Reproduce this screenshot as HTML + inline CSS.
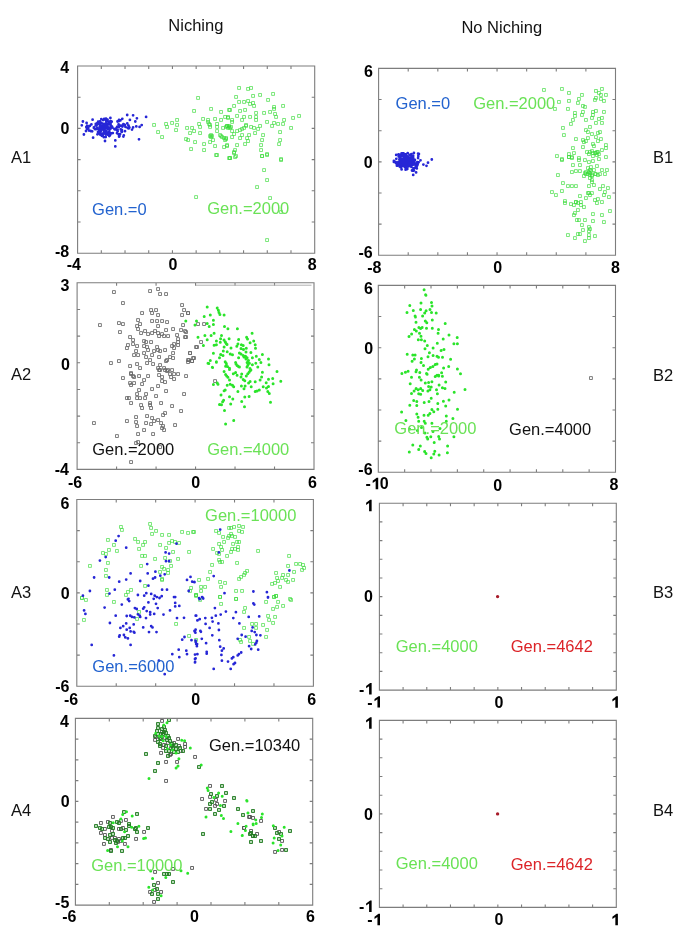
<!DOCTYPE html><html><head><meta charset="utf-8"><style>html,body{margin:0;padding:0;background:#fff;}svg{display:block;filter:blur(0.3px);}text{font-family:"Liberation Sans",sans-serif;}</style></head><body>
<svg width="685" height="940" viewBox="0 0 685 940">
<rect width="685" height="940" fill="#fff"/>
<path d="M196.6 96.5h2.9v2.9h-2.9zM192.6 109.5h2.9v2.9h-2.9zM209.6 107.5h2.9v2.9h-2.9zM219.6 110.5h2.9v2.9h-2.9zM152.6 123.5h2.9v2.9h-2.9zM156.6 130.6h2.9v2.9h-2.9zM160.6 135.6h2.9v2.9h-2.9zM164.6 122.5h2.9v2.9h-2.9zM165.6 125.5h2.9v2.9h-2.9zM170.6 121.5h2.9v2.9h-2.9zM175.6 118.5h2.9v2.9h-2.9zM175.6 123.5h2.9v2.9h-2.9zM174.6 128.6h2.9v2.9h-2.9zM185.6 126.5h2.9v2.9h-2.9zM188.6 131.6h2.9v2.9h-2.9zM190.6 126.5h2.9v2.9h-2.9zM192.6 129.6h2.9v2.9h-2.9zM184.6 137.6h2.9v2.9h-2.9zM186.6 138.6h2.9v2.9h-2.9zM193.6 140.6h2.9v2.9h-2.9zM189.6 147.6h2.9v2.9h-2.9zM197.6 122.5h2.9v2.9h-2.9zM198.6 125.5h2.9v2.9h-2.9zM198.6 131.6h2.9v2.9h-2.9zM201.6 117.5h2.9v2.9h-2.9zM202.6 142.6h2.9v2.9h-2.9zM202.6 148.6h2.9v2.9h-2.9zM206.6 118.5h2.9v2.9h-2.9zM207.6 122.5h2.9v2.9h-2.9zM208.6 125.5h2.9v2.9h-2.9zM213.6 117.5h2.9v2.9h-2.9zM215.6 122.5h2.9v2.9h-2.9zM215.6 125.5h2.9v2.9h-2.9zM215.6 129.6h2.9v2.9h-2.9zM209.6 133.6h2.9v2.9h-2.9zM209.6 135.6h2.9v2.9h-2.9zM208.6 140.6h2.9v2.9h-2.9zM211.6 138.6h2.9v2.9h-2.9zM213.6 144.6h2.9v2.9h-2.9zM215.6 153.6h2.9v2.9h-2.9zM219.6 118.5h2.9v2.9h-2.9zM223.6 115.5h2.9v2.9h-2.9zM226.6 116.5h2.9v2.9h-2.9zM218.6 133.6h2.9v2.9h-2.9zM220.6 135.6h2.9v2.9h-2.9zM223.6 138.6h2.9v2.9h-2.9zM224.6 137.6h2.9v2.9h-2.9zM222.6 145.6h2.9v2.9h-2.9zM225.6 144.6h2.9v2.9h-2.9zM224.6 125.5h2.9v2.9h-2.9zM226.6 126.5h2.9v2.9h-2.9zM227.6 124.5h2.9v2.9h-2.9zM227.6 156.6h2.9v2.9h-2.9zM227.6 108.5h2.9v2.9h-2.9zM237.6 86.5h2.9v2.9h-2.9zM246.6 87.5h2.9v2.9h-2.9zM249.6 86.5h2.9v2.9h-2.9zM234.6 95.5h2.9v2.9h-2.9zM251.6 94.5h2.9v2.9h-2.9zM258.6 93.5h2.9v2.9h-2.9zM271.6 92.5h2.9v2.9h-2.9zM266.6 98.5h2.9v2.9h-2.9zM237.6 100.5h2.9v2.9h-2.9zM242.6 100.5h2.9v2.9h-2.9zM246.6 99.5h2.9v2.9h-2.9zM251.6 101.5h2.9v2.9h-2.9zM252.6 104.5h2.9v2.9h-2.9zM248.6 102.5h2.9v2.9h-2.9zM232.6 104.5h2.9v2.9h-2.9zM281.6 104.5h2.9v2.9h-2.9zM228.6 108.5h2.9v2.9h-2.9zM238.6 109.5h2.9v2.9h-2.9zM243.6 108.5h2.9v2.9h-2.9zM254.6 111.5h2.9v2.9h-2.9zM262.6 111.5h2.9v2.9h-2.9zM268.6 110.5h2.9v2.9h-2.9zM272.6 107.5h2.9v2.9h-2.9zM272.6 105.5h2.9v2.9h-2.9zM273.6 112.5h2.9v2.9h-2.9zM274.6 115.5h2.9v2.9h-2.9zM282.6 118.5h2.9v2.9h-2.9zM291.6 116.5h2.9v2.9h-2.9zM297.6 114.5h2.9v2.9h-2.9zM235.6 114.5h2.9v2.9h-2.9zM242.6 115.5h2.9v2.9h-2.9zM248.6 115.5h2.9v2.9h-2.9zM254.6 115.5h2.9v2.9h-2.9zM254.6 118.5h2.9v2.9h-2.9zM240.6 118.5h2.9v2.9h-2.9zM230.6 118.5h2.9v2.9h-2.9zM226.6 115.5h2.9v2.9h-2.9zM265.6 120.5h2.9v2.9h-2.9zM272.6 121.5h2.9v2.9h-2.9zM276.6 122.5h2.9v2.9h-2.9zM281.6 122.5h2.9v2.9h-2.9zM270.6 124.5h2.9v2.9h-2.9zM258.6 124.5h2.9v2.9h-2.9zM256.6 127.5h2.9v2.9h-2.9zM252.6 126.5h2.9v2.9h-2.9zM249.6 125.5h2.9v2.9h-2.9zM244.6 124.5h2.9v2.9h-2.9zM240.6 127.5h2.9v2.9h-2.9zM225.6 124.5h2.9v2.9h-2.9zM228.6 126.5h2.9v2.9h-2.9zM289.6 126.5h2.9v2.9h-2.9zM278.6 130.6h2.9v2.9h-2.9zM253.6 131.6h2.9v2.9h-2.9zM235.6 129.6h2.9v2.9h-2.9zM230.6 129.6h2.9v2.9h-2.9zM240.6 133.6h2.9v2.9h-2.9zM247.6 133.6h2.9v2.9h-2.9zM261.6 133.6h2.9v2.9h-2.9zM278.6 138.6h2.9v2.9h-2.9zM277.6 142.6h2.9v2.9h-2.9zM260.6 138.6h2.9v2.9h-2.9zM246.6 139.6h2.9v2.9h-2.9zM245.6 136.6h2.9v2.9h-2.9zM243.6 142.6h2.9v2.9h-2.9zM238.6 136.6h2.9v2.9h-2.9zM230.6 135.6h2.9v2.9h-2.9zM224.6 136.6h2.9v2.9h-2.9zM225.6 143.6h2.9v2.9h-2.9zM235.6 143.6h2.9v2.9h-2.9zM259.6 143.6h2.9v2.9h-2.9zM259.6 148.6h2.9v2.9h-2.9zM233.6 148.6h2.9v2.9h-2.9zM232.6 151.6h2.9v2.9h-2.9zM234.6 154.6h2.9v2.9h-2.9zM228.6 156.6h2.9v2.9h-2.9zM260.6 154.6h2.9v2.9h-2.9zM265.6 153.6h2.9v2.9h-2.9zM279.6 157.6h2.9v2.9h-2.9zM214.6 153.6h2.9v2.9h-2.9zM228.6 156.6h2.9v2.9h-2.9zM233.6 155.6h2.9v2.9h-2.9zM232.6 150.6h2.9v2.9h-2.9zM260.6 154.6h2.9v2.9h-2.9zM265.6 152.6h2.9v2.9h-2.9zM279.6 158.6h2.9v2.9h-2.9zM262.6 168.6h2.9v2.9h-2.9zM265.6 178.6h2.9v2.9h-2.9zM255.6 185.6h2.9v2.9h-2.9zM194.6 195.6h2.9v2.9h-2.9zM268.6 196.6h2.9v2.9h-2.9zM279.6 210.6h2.9v2.9h-2.9zM265.6 238.6h2.9v2.9h-2.9zM208.6 134.6h2.9v2.9h-2.9zM210.6 134.6h2.9v2.9h-2.9zM219.6 134.6h2.9v2.9h-2.9zM222.6 136.6h2.9v2.9h-2.9zM206.6 120.5h2.9v2.9h-2.9zM208.6 123.5h2.9v2.9h-2.9zM225.6 124.5h2.9v2.9h-2.9zM227.6 125.5h2.9v2.9h-2.9zM242.6 126.5h2.9v2.9h-2.9zM244.6 123.5h2.9v2.9h-2.9zM230.6 120.5h2.9v2.9h-2.9zM232.6 132.6h2.9v2.9h-2.9zM238.6 128.6h2.9v2.9h-2.9zM229.6 125.5h2.9v2.9h-2.9zM221.6 126.5h2.9v2.9h-2.9zM542.5 88.5h2.9v2.9h-2.9zM560.5 87.5h2.9v2.9h-2.9zM567.5 91.5h2.9v2.9h-2.9zM557.5 100.5h2.9v2.9h-2.9zM567.5 99.5h2.9v2.9h-2.9zM553.5 107.5h2.9v2.9h-2.9zM566.5 107.5h2.9v2.9h-2.9zM580.5 93.5h2.9v2.9h-2.9zM577.5 97.5h2.9v2.9h-2.9zM576.5 101.5h2.9v2.9h-2.9zM581.5 104.5h2.9v2.9h-2.9zM583.5 105.5h2.9v2.9h-2.9zM594.5 89.5h2.9v2.9h-2.9zM597.5 91.5h2.9v2.9h-2.9zM600.5 87.5h2.9v2.9h-2.9zM599.5 93.5h2.9v2.9h-2.9zM604.5 93.5h2.9v2.9h-2.9zM594.5 96.5h2.9v2.9h-2.9zM593.5 98.5h2.9v2.9h-2.9zM599.5 97.5h2.9v2.9h-2.9zM602.5 99.5h2.9v2.9h-2.9zM573.5 111.5h2.9v2.9h-2.9zM573.5 114.5h2.9v2.9h-2.9zM581.5 110.5h2.9v2.9h-2.9zM580.5 113.5h2.9v2.9h-2.9zM591.5 110.5h2.9v2.9h-2.9zM594.5 109.5h2.9v2.9h-2.9zM602.5 110.5h2.9v2.9h-2.9zM591.5 113.5h2.9v2.9h-2.9zM590.5 116.5h2.9v2.9h-2.9zM597.5 117.5h2.9v2.9h-2.9zM600.5 116.5h2.9v2.9h-2.9zM571.5 118.5h2.9v2.9h-2.9zM569.5 122.5h2.9v2.9h-2.9zM584.5 118.5h2.9v2.9h-2.9zM594.5 121.5h2.9v2.9h-2.9zM600.5 121.5h2.9v2.9h-2.9zM561.5 126.5h2.9v2.9h-2.9zM588.5 125.5h2.9v2.9h-2.9zM584.5 128.6h2.9v2.9h-2.9zM586.5 130.6h2.9v2.9h-2.9zM562.5 133.6h2.9v2.9h-2.9zM590.5 132.6h2.9v2.9h-2.9zM596.5 131.6h2.9v2.9h-2.9zM598.5 130.6h2.9v2.9h-2.9zM594.5 135.6h2.9v2.9h-2.9zM574.5 137.6h2.9v2.9h-2.9zM581.5 138.6h2.9v2.9h-2.9zM582.5 140.6h2.9v2.9h-2.9zM584.5 139.6h2.9v2.9h-2.9zM586.5 136.6h2.9v2.9h-2.9zM596.5 139.6h2.9v2.9h-2.9zM599.5 137.6h2.9v2.9h-2.9zM591.5 142.6h2.9v2.9h-2.9zM592.5 144.6h2.9v2.9h-2.9zM604.5 143.6h2.9v2.9h-2.9zM604.5 146.6h2.9v2.9h-2.9zM581.5 145.6h2.9v2.9h-2.9zM571.5 146.6h2.9v2.9h-2.9zM600.5 148.6h2.9v2.9h-2.9zM567.5 152.6h2.9v2.9h-2.9zM572.5 151.6h2.9v2.9h-2.9zM555.5 154.6h2.9v2.9h-2.9zM585.5 150.6h2.9v2.9h-2.9zM587.5 152.6h2.9v2.9h-2.9zM590.5 149.6h2.9v2.9h-2.9zM593.5 151.6h2.9v2.9h-2.9zM595.5 150.6h2.9v2.9h-2.9zM597.5 152.6h2.9v2.9h-2.9zM591.5 154.6h2.9v2.9h-2.9zM595.5 153.6h2.9v2.9h-2.9zM604.5 155.6h2.9v2.9h-2.9zM567.5 155.6h2.9v2.9h-2.9zM570.5 155.6h2.9v2.9h-2.9zM560.5 157.6h2.9v2.9h-2.9zM577.5 156.6h2.9v2.9h-2.9zM560.5 158.6h2.9v2.9h-2.9zM567.5 155.6h2.9v2.9h-2.9zM570.5 156.6h2.9v2.9h-2.9zM577.5 158.6h2.9v2.9h-2.9zM583.5 158.6h2.9v2.9h-2.9zM587.5 160.6h2.9v2.9h-2.9zM591.5 159.6h2.9v2.9h-2.9zM597.5 157.6h2.9v2.9h-2.9zM571.5 163.6h2.9v2.9h-2.9zM578.5 163.6h2.9v2.9h-2.9zM589.5 165.6h2.9v2.9h-2.9zM595.5 164.6h2.9v2.9h-2.9zM600.5 168.6h2.9v2.9h-2.9zM605.5 168.6h2.9v2.9h-2.9zM570.5 170.6h2.9v2.9h-2.9zM574.5 169.6h2.9v2.9h-2.9zM578.5 169.6h2.9v2.9h-2.9zM583.5 171.6h2.9v2.9h-2.9zM587.5 170.6h2.9v2.9h-2.9zM589.5 169.6h2.9v2.9h-2.9zM588.5 173.6h2.9v2.9h-2.9zM593.5 172.6h2.9v2.9h-2.9zM596.5 173.6h2.9v2.9h-2.9zM582.5 174.6h2.9v2.9h-2.9zM603.5 172.6h2.9v2.9h-2.9zM556.5 173.6h2.9v2.9h-2.9zM590.5 180.6h2.9v2.9h-2.9zM592.5 183.6h2.9v2.9h-2.9zM587.5 184.6h2.9v2.9h-2.9zM561.5 181.6h2.9v2.9h-2.9zM566.5 184.6h2.9v2.9h-2.9zM570.5 184.6h2.9v2.9h-2.9zM574.5 184.6h2.9v2.9h-2.9zM601.5 184.6h2.9v2.9h-2.9zM606.5 186.6h2.9v2.9h-2.9zM598.5 187.6h2.9v2.9h-2.9zM560.5 189.6h2.9v2.9h-2.9zM550.5 190.6h2.9v2.9h-2.9zM554.5 193.6h2.9v2.9h-2.9zM587.5 191.6h2.9v2.9h-2.9zM603.5 190.6h2.9v2.9h-2.9zM602.5 193.6h2.9v2.9h-2.9zM578.5 194.6h2.9v2.9h-2.9zM584.5 196.6h2.9v2.9h-2.9zM607.5 195.6h2.9v2.9h-2.9zM596.5 197.6h2.9v2.9h-2.9zM593.5 198.6h2.9v2.9h-2.9zM600.5 200.6h2.9v2.9h-2.9zM595.5 201.6h2.9v2.9h-2.9zM563.5 199.6h2.9v2.9h-2.9zM563.5 201.6h2.9v2.9h-2.9zM569.5 202.6h2.9v2.9h-2.9zM574.5 200.6h2.9v2.9h-2.9zM572.5 203.6h2.9v2.9h-2.9zM579.5 200.6h2.9v2.9h-2.9zM579.5 203.6h2.9v2.9h-2.9zM582.5 205.6h2.9v2.9h-2.9zM576.5 208.6h2.9v2.9h-2.9zM573.5 211.6h2.9v2.9h-2.9zM572.5 213.6h2.9v2.9h-2.9zM608.5 209.6h2.9v2.9h-2.9zM591.5 212.6h2.9v2.9h-2.9zM600.5 213.6h2.9v2.9h-2.9zM575.5 218.6h2.9v2.9h-2.9zM577.5 218.6h2.9v2.9h-2.9zM583.5 218.6h2.9v2.9h-2.9zM591.5 219.6h2.9v2.9h-2.9zM602.5 220.6h2.9v2.9h-2.9zM580.5 223.6h2.9v2.9h-2.9zM581.5 228.6h2.9v2.9h-2.9zM587.5 225.6h2.9v2.9h-2.9zM588.5 227.6h2.9v2.9h-2.9zM587.5 229.6h2.9v2.9h-2.9zM576.5 232.6h2.9v2.9h-2.9zM578.5 232.6h2.9v2.9h-2.9zM566.5 233.6h2.9v2.9h-2.9zM573.5 236.6h2.9v2.9h-2.9zM587.5 233.6h2.9v2.9h-2.9zM587.5 236.6h2.9v2.9h-2.9zM593.5 234.6h2.9v2.9h-2.9zM583.5 239.6h2.9v2.9h-2.9zM588.5 168.6h2.9v2.9h-2.9zM588.5 171.6h2.9v2.9h-2.9zM588.5 150.6h2.9v2.9h-2.9zM591.5 151.6h2.9v2.9h-2.9zM594.5 151.6h2.9v2.9h-2.9zM596.5 150.6h2.9v2.9h-2.9zM590.5 173.6h2.9v2.9h-2.9zM594.5 172.6h2.9v2.9h-2.9zM586.5 191.6h2.9v2.9h-2.9zM588.5 193.6h2.9v2.9h-2.9zM584.5 172.6h2.9v2.9h-2.9zM598.5 172.6h2.9v2.9h-2.9zM590.5 191.6h2.9v2.9h-2.9zM574.5 200.6h2.9v2.9h-2.9zM576.5 201.6h2.9v2.9h-2.9zM586.5 172.6h2.9v2.9h-2.9zM590.5 174.6h2.9v2.9h-2.9zM586.5 166.6h2.9v2.9h-2.9zM584.5 170.6h2.9v2.9h-2.9zM592.5 168.6h2.9v2.9h-2.9zM588.5 176.6h2.9v2.9h-2.9zM590.5 178.6h2.9v2.9h-2.9zM119.5 525.5h2.9v2.9h-2.9zM120.5 528.5h2.9v2.9h-2.9zM148.6 522.5h2.9v2.9h-2.9zM149.6 526.5h2.9v2.9h-2.9zM154.6 529.5h2.9v2.9h-2.9zM150.6 532.5h2.9v2.9h-2.9zM160.6 533.5h2.9v2.9h-2.9zM167.6 533.5h2.9v2.9h-2.9zM180.6 530.5h2.9v2.9h-2.9zM186.6 531.5h2.9v2.9h-2.9zM191.6 530.5h2.9v2.9h-2.9zM106.5 538.5h2.9v2.9h-2.9zM133.6 537.5h2.9v2.9h-2.9zM136.6 540.5h2.9v2.9h-2.9zM143.6 540.5h2.9v2.9h-2.9zM141.6 543.5h2.9v2.9h-2.9zM112.5 543.5h2.9v2.9h-2.9zM137.6 547.5h2.9v2.9h-2.9zM158.6 543.5h2.9v2.9h-2.9zM164.6 546.5h2.9v2.9h-2.9zM167.6 541.5h2.9v2.9h-2.9zM170.6 539.5h2.9v2.9h-2.9zM173.6 540.5h2.9v2.9h-2.9zM177.6 541.5h2.9v2.9h-2.9zM107.5 548.5h2.9v2.9h-2.9zM115.5 549.5h2.9v2.9h-2.9zM101.5 551.5h2.9v2.9h-2.9zM104.5 552.5h2.9v2.9h-2.9zM171.6 550.5h2.9v2.9h-2.9zM187.6 550.5h2.9v2.9h-2.9zM140.6 554.5h2.9v2.9h-2.9zM143.6 554.5h2.9v2.9h-2.9zM153.6 557.5h2.9v2.9h-2.9zM163.6 556.5h2.9v2.9h-2.9zM176.6 557.5h2.9v2.9h-2.9zM106.5 561.5h2.9v2.9h-2.9zM168.6 559.5h2.9v2.9h-2.9zM88.5 564.5h2.9v2.9h-2.9zM139.6 564.5h2.9v2.9h-2.9zM160.6 565.5h2.9v2.9h-2.9zM169.6 564.5h2.9v2.9h-2.9zM104.5 568.5h2.9v2.9h-2.9zM162.6 567.5h2.9v2.9h-2.9zM166.6 568.5h2.9v2.9h-2.9zM158.6 570.5h2.9v2.9h-2.9zM166.6 571.5h2.9v2.9h-2.9zM104.5 574.5h2.9v2.9h-2.9zM160.6 577.5h2.9v2.9h-2.9zM160.6 578.5h2.9v2.9h-2.9zM143.6 584.5h2.9v2.9h-2.9zM129.6 588.5h2.9v2.9h-2.9zM105.5 588.5h2.9v2.9h-2.9zM126.5 590.5h2.9v2.9h-2.9zM124.5 593.5h2.9v2.9h-2.9zM105.5 593.5h2.9v2.9h-2.9zM189.6 586.5h2.9v2.9h-2.9zM188.6 589.5h2.9v2.9h-2.9zM194.6 593.5h2.9v2.9h-2.9zM80.5 596.5h2.9v2.9h-2.9zM192.6 530.5h2.9v2.9h-2.9zM214.6 529.5h2.9v2.9h-2.9zM217.6 531.5h2.9v2.9h-2.9zM227.6 526.5h2.9v2.9h-2.9zM229.6 526.5h2.9v2.9h-2.9zM232.6 525.5h2.9v2.9h-2.9zM237.6 524.5h2.9v2.9h-2.9zM241.6 525.5h2.9v2.9h-2.9zM237.6 529.5h2.9v2.9h-2.9zM240.6 530.5h2.9v2.9h-2.9zM229.6 532.5h2.9v2.9h-2.9zM227.6 534.5h2.9v2.9h-2.9zM226.6 536.5h2.9v2.9h-2.9zM230.6 534.5h2.9v2.9h-2.9zM233.6 535.5h2.9v2.9h-2.9zM221.6 535.5h2.9v2.9h-2.9zM222.6 540.5h2.9v2.9h-2.9zM217.6 542.5h2.9v2.9h-2.9zM219.6 545.5h2.9v2.9h-2.9zM231.6 542.5h2.9v2.9h-2.9zM235.6 540.5h2.9v2.9h-2.9zM237.6 540.5h2.9v2.9h-2.9zM236.6 545.5h2.9v2.9h-2.9zM211.6 547.5h2.9v2.9h-2.9zM220.6 548.5h2.9v2.9h-2.9zM230.6 547.5h2.9v2.9h-2.9zM233.6 547.5h2.9v2.9h-2.9zM236.6 548.5h2.9v2.9h-2.9zM229.6 550.5h2.9v2.9h-2.9zM215.6 551.5h2.9v2.9h-2.9zM217.6 552.5h2.9v2.9h-2.9zM225.6 554.5h2.9v2.9h-2.9zM256.6 549.5h2.9v2.9h-2.9zM217.6 558.5h2.9v2.9h-2.9zM218.6 560.5h2.9v2.9h-2.9zM220.6 560.5h2.9v2.9h-2.9zM235.6 561.5h2.9v2.9h-2.9zM210.6 563.5h2.9v2.9h-2.9zM287.6 554.5h2.9v2.9h-2.9zM286.6 564.5h2.9v2.9h-2.9zM294.6 562.5h2.9v2.9h-2.9zM298.6 562.5h2.9v2.9h-2.9zM301.6 563.5h2.9v2.9h-2.9zM302.6 566.5h2.9v2.9h-2.9zM300.6 568.5h2.9v2.9h-2.9zM292.6 570.5h2.9v2.9h-2.9zM208.6 570.5h2.9v2.9h-2.9zM245.6 569.5h2.9v2.9h-2.9zM243.6 571.5h2.9v2.9h-2.9zM242.6 573.5h2.9v2.9h-2.9zM239.6 575.5h2.9v2.9h-2.9zM237.6 577.5h2.9v2.9h-2.9zM206.6 577.5h2.9v2.9h-2.9zM197.6 578.5h2.9v2.9h-2.9zM274.6 571.5h2.9v2.9h-2.9zM281.6 573.5h2.9v2.9h-2.9zM286.6 573.5h2.9v2.9h-2.9zM275.6 576.5h2.9v2.9h-2.9zM280.6 576.5h2.9v2.9h-2.9zM284.6 578.5h2.9v2.9h-2.9zM291.6 578.5h2.9v2.9h-2.9zM276.6 579.5h2.9v2.9h-2.9zM286.6 580.5h2.9v2.9h-2.9zM273.6 581.5h2.9v2.9h-2.9zM270.6 582.5h2.9v2.9h-2.9zM278.6 585.5h2.9v2.9h-2.9zM218.6 580.5h2.9v2.9h-2.9zM223.6 581.5h2.9v2.9h-2.9zM219.6 585.5h2.9v2.9h-2.9zM199.6 585.5h2.9v2.9h-2.9zM203.6 585.5h2.9v2.9h-2.9zM199.6 589.5h2.9v2.9h-2.9zM234.6 589.5h2.9v2.9h-2.9zM240.6 589.5h2.9v2.9h-2.9zM194.6 593.5h2.9v2.9h-2.9zM218.6 595.5h2.9v2.9h-2.9zM272.6 595.5h2.9v2.9h-2.9zM274.6 594.5h2.9v2.9h-2.9zM288.6 597.5h2.9v2.9h-2.9zM234.6 597.5h2.9v2.9h-2.9zM80.5 596.5h2.9v2.9h-2.9zM84.5 598.5h2.9v2.9h-2.9zM112.5 600.5h2.9v2.9h-2.9zM137.6 610.5h2.9v2.9h-2.9zM135.6 617.5h2.9v2.9h-2.9zM82.5 618.5h2.9v2.9h-2.9zM174.6 622.5h2.9v2.9h-2.9zM187.6 634.5h2.9v2.9h-2.9zM194.6 638.5h2.9v2.9h-2.9zM194.6 594.5h2.9v2.9h-2.9zM198.6 598.5h2.9v2.9h-2.9zM218.6 595.5h2.9v2.9h-2.9zM234.6 597.5h2.9v2.9h-2.9zM219.6 602.5h2.9v2.9h-2.9zM243.6 606.5h2.9v2.9h-2.9zM242.6 610.5h2.9v2.9h-2.9zM264.6 600.5h2.9v2.9h-2.9zM272.6 595.5h2.9v2.9h-2.9zM274.6 594.5h2.9v2.9h-2.9zM276.6 600.5h2.9v2.9h-2.9zM275.6 605.5h2.9v2.9h-2.9zM271.6 607.5h2.9v2.9h-2.9zM281.6 604.5h2.9v2.9h-2.9zM289.6 598.5h2.9v2.9h-2.9zM266.6 614.5h2.9v2.9h-2.9zM273.6 615.5h2.9v2.9h-2.9zM267.6 618.5h2.9v2.9h-2.9zM271.6 621.5h2.9v2.9h-2.9zM250.6 622.5h2.9v2.9h-2.9zM254.6 622.5h2.9v2.9h-2.9zM261.6 623.5h2.9v2.9h-2.9zM242.6 626.5h2.9v2.9h-2.9zM254.6 626.5h2.9v2.9h-2.9zM265.6 628.5h2.9v2.9h-2.9zM264.6 635.5h2.9v2.9h-2.9zM247.6 635.5h2.9v2.9h-2.9zM238.6 638.5h2.9v2.9h-2.9zM239.6 640.5h2.9v2.9h-2.9zM248.6 639.5h2.9v2.9h-2.9zM251.6 642.5h2.9v2.9h-2.9z" fill="none" stroke="#38dc38" stroke-width="0.65"/>
<path d="M112.5 290.6h2.9v2.9h-2.9zM148.6 289.6h2.9v2.9h-2.9zM156.6 287.6h2.9v2.9h-2.9zM158.6 292.6h2.9v2.9h-2.9zM164.6 292.6h2.9v2.9h-2.9zM121.5 301.6h2.9v2.9h-2.9zM180.6 303.6h2.9v2.9h-2.9zM182.6 308.6h2.9v2.9h-2.9zM186.6 311.6h2.9v2.9h-2.9zM180.6 313.6h2.9v2.9h-2.9zM140.6 311.6h2.9v2.9h-2.9zM149.6 308.6h2.9v2.9h-2.9zM154.6 308.6h2.9v2.9h-2.9zM150.6 311.6h2.9v2.9h-2.9zM156.6 313.6h2.9v2.9h-2.9zM136.6 318.6h2.9v2.9h-2.9zM138.6 322.6h2.9v2.9h-2.9zM150.6 319.6h2.9v2.9h-2.9zM155.6 319.6h2.9v2.9h-2.9zM160.6 319.6h2.9v2.9h-2.9zM165.6 320.6h2.9v2.9h-2.9zM98.5 323.6h2.9v2.9h-2.9zM117.5 321.6h2.9v2.9h-2.9zM121.5 322.6h2.9v2.9h-2.9zM135.6 324.6h2.9v2.9h-2.9zM156.6 324.6h2.9v2.9h-2.9zM181.6 323.6h2.9v2.9h-2.9zM136.6 327.6h2.9v2.9h-2.9zM164.6 328.6h2.9v2.9h-2.9zM171.6 327.6h2.9v2.9h-2.9zM179.6 328.6h2.9v2.9h-2.9zM183.6 329.6h2.9v2.9h-2.9zM118.5 330.6h2.9v2.9h-2.9zM139.6 331.6h2.9v2.9h-2.9zM143.6 329.6h2.9v2.9h-2.9zM146.6 332.6h2.9v2.9h-2.9zM150.6 331.6h2.9v2.9h-2.9zM153.6 329.6h2.9v2.9h-2.9zM156.6 331.6h2.9v2.9h-2.9zM157.6 334.6h2.9v2.9h-2.9zM160.6 332.6h2.9v2.9h-2.9zM162.6 334.6h2.9v2.9h-2.9zM166.6 334.6h2.9v2.9h-2.9zM175.6 333.6h2.9v2.9h-2.9zM183.6 335.6h2.9v2.9h-2.9zM128.6 335.6h2.9v2.9h-2.9zM131.6 338.6h2.9v2.9h-2.9zM142.6 339.6h2.9v2.9h-2.9zM144.6 340.6h2.9v2.9h-2.9zM149.6 340.6h2.9v2.9h-2.9zM176.6 337.6h2.9v2.9h-2.9zM176.6 340.6h2.9v2.9h-2.9zM172.6 342.6h2.9v2.9h-2.9zM131.6 342.6h2.9v2.9h-2.9zM126.5 343.6h2.9v2.9h-2.9zM135.6 344.6h2.9v2.9h-2.9zM142.6 344.6h2.9v2.9h-2.9zM145.6 345.6h2.9v2.9h-2.9zM155.6 345.6h2.9v2.9h-2.9zM176.6 343.6h2.9v2.9h-2.9zM170.6 344.6h2.9v2.9h-2.9zM125.5 346.6h2.9v2.9h-2.9zM134.6 349.6h2.9v2.9h-2.9zM146.6 348.6h2.9v2.9h-2.9zM152.6 349.6h2.9v2.9h-2.9zM156.6 348.6h2.9v2.9h-2.9zM158.6 349.6h2.9v2.9h-2.9zM163.6 348.6h2.9v2.9h-2.9zM172.6 346.6h2.9v2.9h-2.9zM195.6 345.6h2.9v2.9h-2.9zM132.6 353.6h2.9v2.9h-2.9zM136.6 353.6h2.9v2.9h-2.9zM142.6 351.6h2.9v2.9h-2.9zM144.6 355.6h2.9v2.9h-2.9zM150.6 353.6h2.9v2.9h-2.9zM157.6 355.6h2.9v2.9h-2.9zM171.6 351.6h2.9v2.9h-2.9zM188.6 351.6h2.9v2.9h-2.9zM148.6 358.6h2.9v2.9h-2.9zM165.6 358.6h2.9v2.9h-2.9zM168.6 355.6h2.9v2.9h-2.9zM171.6 356.6h2.9v2.9h-2.9zM186.6 358.6h2.9v2.9h-2.9zM192.6 356.6h2.9v2.9h-2.9zM190.6 359.6h2.9v2.9h-2.9zM109.5 361.6h2.9v2.9h-2.9zM117.5 359.6h2.9v2.9h-2.9zM128.6 364.6h2.9v2.9h-2.9zM135.6 362.6h2.9v2.9h-2.9zM138.6 366.6h2.9v2.9h-2.9zM145.6 361.6h2.9v2.9h-2.9zM151.6 362.6h2.9v2.9h-2.9zM158.6 363.6h2.9v2.9h-2.9zM156.6 366.6h2.9v2.9h-2.9zM162.6 366.6h2.9v2.9h-2.9zM164.6 359.6h2.9v2.9h-2.9zM157.6 368.6h2.9v2.9h-2.9zM163.6 368.6h2.9v2.9h-2.9zM166.6 368.6h2.9v2.9h-2.9zM170.6 368.6h2.9v2.9h-2.9zM129.6 371.6h2.9v2.9h-2.9zM121.5 376.6h2.9v2.9h-2.9zM129.6 372.6h2.9v2.9h-2.9zM131.6 374.6h2.9v2.9h-2.9zM132.6 375.6h2.9v2.9h-2.9zM137.6 374.6h2.9v2.9h-2.9zM142.6 378.6h2.9v2.9h-2.9zM146.6 374.6h2.9v2.9h-2.9zM157.6 373.6h2.9v2.9h-2.9zM160.6 375.6h2.9v2.9h-2.9zM158.6 368.6h2.9v2.9h-2.9zM165.6 369.6h2.9v2.9h-2.9zM168.6 372.6h2.9v2.9h-2.9zM172.6 372.6h2.9v2.9h-2.9zM176.6 372.6h2.9v2.9h-2.9zM184.6 374.6h2.9v2.9h-2.9zM169.6 375.6h2.9v2.9h-2.9zM172.6 377.6h2.9v2.9h-2.9zM128.6 381.6h2.9v2.9h-2.9zM129.6 383.6h2.9v2.9h-2.9zM132.6 381.6h2.9v2.9h-2.9zM140.6 382.6h2.9v2.9h-2.9zM160.6 379.6h2.9v2.9h-2.9zM163.6 380.6h2.9v2.9h-2.9zM156.6 384.6h2.9v2.9h-2.9zM137.6 388.6h2.9v2.9h-2.9zM150.6 387.6h2.9v2.9h-2.9zM164.6 389.6h2.9v2.9h-2.9zM182.6 392.6h2.9v2.9h-2.9zM135.6 392.6h2.9v2.9h-2.9zM144.6 392.6h2.9v2.9h-2.9zM154.6 394.6h2.9v2.9h-2.9zM125.5 396.6h2.9v2.9h-2.9zM127.5 396.6h2.9v2.9h-2.9zM135.6 396.6h2.9v2.9h-2.9zM138.6 396.6h2.9v2.9h-2.9zM143.6 396.6h2.9v2.9h-2.9zM129.6 401.6h2.9v2.9h-2.9zM139.6 403.6h2.9v2.9h-2.9zM140.6 406.6h2.9v2.9h-2.9zM148.6 401.6h2.9v2.9h-2.9zM148.6 403.6h2.9v2.9h-2.9zM149.6 406.6h2.9v2.9h-2.9zM159.6 401.6h2.9v2.9h-2.9zM170.6 404.6h2.9v2.9h-2.9zM179.6 409.6h2.9v2.9h-2.9zM161.6 413.6h2.9v2.9h-2.9zM163.6 411.6h2.9v2.9h-2.9zM134.6 415.6h2.9v2.9h-2.9zM145.6 414.6h2.9v2.9h-2.9zM150.6 416.6h2.9v2.9h-2.9zM152.6 419.6h2.9v2.9h-2.9zM156.6 418.6h2.9v2.9h-2.9zM92.5 421.6h2.9v2.9h-2.9zM125.5 419.6h2.9v2.9h-2.9zM134.6 420.6h2.9v2.9h-2.9zM135.6 424.6h2.9v2.9h-2.9zM144.6 421.6h2.9v2.9h-2.9zM149.6 422.6h2.9v2.9h-2.9zM159.6 421.6h2.9v2.9h-2.9zM161.6 424.6h2.9v2.9h-2.9zM173.6 423.6h2.9v2.9h-2.9zM160.6 426.6h2.9v2.9h-2.9zM162.6 428.6h2.9v2.9h-2.9zM142.6 428.6h2.9v2.9h-2.9zM136.6 432.6h2.9v2.9h-2.9zM151.6 432.6h2.9v2.9h-2.9zM115.5 434.6h2.9v2.9h-2.9zM134.6 441.6h2.9v2.9h-2.9zM136.6 440.6h2.9v2.9h-2.9zM158.6 445.6h2.9v2.9h-2.9zM129.6 460.6h2.9v2.9h-2.9zM186.6 311.6h2.9v2.9h-2.9zM196.6 322.6h2.9v2.9h-2.9zM202.6 322.6h2.9v2.9h-2.9zM184.6 330.6h2.9v2.9h-2.9zM184.6 335.6h2.9v2.9h-2.9zM199.6 340.6h2.9v2.9h-2.9zM194.6 345.6h2.9v2.9h-2.9zM188.6 351.6h2.9v2.9h-2.9zM191.6 356.6h2.9v2.9h-2.9zM187.6 358.6h2.9v2.9h-2.9zM190.6 359.6h2.9v2.9h-2.9zM186.6 360.6h2.9v2.9h-2.9zM213.6 379.6h2.9v2.9h-2.9zM589.5 376.6h2.9v2.9h-2.9z" fill="none" stroke="#686868" stroke-width="0.85"/>
<path d="M111.5 815.5h2.9v2.9h-2.9zM124.5 818.5h2.9v2.9h-2.9zM119.5 819.5h2.9v2.9h-2.9zM106.5 820.5h2.9v2.9h-2.9zM99.5 821.5h2.9v2.9h-2.9zM103.5 827.5h2.9v2.9h-2.9zM110.5 829.5h2.9v2.9h-2.9zM117.5 827.5h2.9v2.9h-2.9zM121.5 826.5h2.9v2.9h-2.9zM142.6 830.5h2.9v2.9h-2.9zM99.5 831.5h2.9v2.9h-2.9zM103.5 833.5h2.9v2.9h-2.9zM110.5 836.5h2.9v2.9h-2.9zM113.5 836.5h2.9v2.9h-2.9zM117.5 837.5h2.9v2.9h-2.9zM134.6 837.5h2.9v2.9h-2.9zM116.5 840.5h2.9v2.9h-2.9zM119.5 839.5h2.9v2.9h-2.9zM102.5 842.5h2.9v2.9h-2.9zM123.5 842.5h2.9v2.9h-2.9zM109.5 848.5h2.9v2.9h-2.9zM160.6 719.5h2.9v2.9h-2.9zM153.6 738.5h2.9v2.9h-2.9zM163.6 736.5h2.9v2.9h-2.9zM176.6 737.5h2.9v2.9h-2.9zM166.6 741.5h2.9v2.9h-2.9zM172.6 741.5h2.9v2.9h-2.9zM183.6 742.5h2.9v2.9h-2.9zM177.6 744.5h2.9v2.9h-2.9zM161.6 746.5h2.9v2.9h-2.9zM169.6 746.5h2.9v2.9h-2.9zM179.6 749.5h2.9v2.9h-2.9zM183.6 745.5h2.9v2.9h-2.9zM159.6 751.5h2.9v2.9h-2.9zM169.6 752.5h2.9v2.9h-2.9zM168.6 753.5h2.9v2.9h-2.9zM193.6 755.5h2.9v2.9h-2.9zM164.6 760.5h2.9v2.9h-2.9zM175.6 760.5h2.9v2.9h-2.9zM164.6 779.5h2.9v2.9h-2.9zM162.6 743.5h2.9v2.9h-2.9zM154.6 735.5h2.9v2.9h-2.9zM160.6 730.5h2.9v2.9h-2.9zM208.6 784.5h2.9v2.9h-2.9zM208.6 795.5h2.9v2.9h-2.9zM200.6 797.5h2.9v2.9h-2.9zM214.6 798.5h2.9v2.9h-2.9zM223.6 799.5h2.9v2.9h-2.9zM215.6 802.5h2.9v2.9h-2.9zM213.6 804.5h2.9v2.9h-2.9zM204.6 807.5h2.9v2.9h-2.9zM247.6 815.5h2.9v2.9h-2.9zM251.6 816.5h2.9v2.9h-2.9zM242.6 826.5h2.9v2.9h-2.9zM249.6 829.5h2.9v2.9h-2.9zM248.6 815.5h2.9v2.9h-2.9zM259.6 819.5h2.9v2.9h-2.9zM242.6 826.5h2.9v2.9h-2.9zM251.6 834.5h2.9v2.9h-2.9zM255.6 832.5h2.9v2.9h-2.9zM277.6 830.5h2.9v2.9h-2.9zM280.6 839.5h2.9v2.9h-2.9zM280.6 848.5h2.9v2.9h-2.9zM273.6 850.5h2.9v2.9h-2.9zM153.6 870.5h2.9v2.9h-2.9zM171.6 867.5h2.9v2.9h-2.9zM190.6 866.5h2.9v2.9h-2.9zM156.6 881.5h2.9v2.9h-2.9zM153.6 888.5h2.9v2.9h-2.9zM159.6 890.5h2.9v2.9h-2.9zM148.6 890.5h2.9v2.9h-2.9zM152.6 900.5h2.9v2.9h-2.9z" fill="none" stroke="#4a4a4a" stroke-width="0.85"/>
<path d="M122.5 810.5h3v3h-3zM135.5 812.5h3v3h-3zM115.5 820.5h3v3h-3zM117.5 821.5h3v3h-3zM108.5 821.5h3v3h-3zM94.5 824.5h3v3h-3zM127.5 822.5h3v3h-3zM127.5 824.5h3v3h-3zM146.5 826.5h3v3h-3zM98.5 826.5h3v3h-3zM100.5 827.5h3v3h-3zM107.5 825.5h3v3h-3zM109.5 825.5h3v3h-3zM111.5 826.5h3v3h-3zM119.5 827.5h3v3h-3zM124.5 828.5h3v3h-3zM133.5 827.5h3v3h-3zM134.5 826.5h3v3h-3zM135.5 830.5h3v3h-3zM108.5 833.5h3v3h-3zM111.5 832.5h3v3h-3zM103.5 836.5h3v3h-3zM106.5 837.5h3v3h-3zM126.5 834.5h3v3h-3zM121.5 836.5h3v3h-3zM123.5 836.5h3v3h-3zM115.5 839.5h3v3h-3zM113.5 838.5h3v3h-3zM108.5 840.5h3v3h-3zM114.5 841.5h3v3h-3zM109.5 849.5h3v3h-3zM120.5 849.5h3v3h-3zM167.5 718.5h3v3h-3zM156.5 722.5h3v3h-3zM160.5 727.5h3v3h-3zM163.5 728.5h3v3h-3zM155.5 729.5h3v3h-3zM162.5 730.5h3v3h-3zM164.5 731.5h3v3h-3zM159.5 732.5h3v3h-3zM153.5 734.5h3v3h-3zM166.5 734.5h3v3h-3zM159.5 737.5h3v3h-3zM167.5 736.5h3v3h-3zM168.5 739.5h3v3h-3zM158.5 742.5h3v3h-3zM174.5 743.5h3v3h-3zM171.5 746.5h3v3h-3zM174.5 747.5h3v3h-3zM181.5 749.5h3v3h-3zM167.5 749.5h3v3h-3zM176.5 750.5h3v3h-3zM144.5 752.5h3v3h-3zM166.5 754.5h3v3h-3zM156.5 761.5h3v3h-3zM197.5 765.5h3v3h-3zM153.5 769.5h3v3h-3zM161.5 732.5h3v3h-3zM156.5 740.5h3v3h-3zM158.5 744.5h3v3h-3zM165.5 738.5h3v3h-3zM170.5 742.5h3v3h-3zM156.5 732.5h3v3h-3zM172.5 750.5h3v3h-3zM178.5 746.5h3v3h-3zM164.5 749.5h3v3h-3zM158.5 736.5h3v3h-3zM164.5 744.5h3v3h-3zM170.5 744.5h3v3h-3zM156.5 726.5h3v3h-3zM162.5 725.5h3v3h-3zM220.5 784.5h3v3h-3zM224.5 791.5h3v3h-3zM209.5 792.5h3v3h-3zM215.5 794.5h3v3h-3zM232.5 796.5h3v3h-3zM208.5 802.5h3v3h-3zM210.5 800.5h3v3h-3zM222.5 804.5h3v3h-3zM217.5 808.5h3v3h-3zM208.5 807.5h3v3h-3zM236.5 807.5h3v3h-3zM213.5 812.5h3v3h-3zM241.5 813.5h3v3h-3zM251.5 809.5h3v3h-3zM201.5 832.5h3v3h-3zM249.5 831.5h3v3h-3zM251.5 834.5h3v3h-3zM248.5 832.5h3v3h-3zM253.5 834.5h3v3h-3zM249.5 840.5h3v3h-3zM259.5 839.5h3v3h-3zM273.5 826.5h3v3h-3zM288.5 829.5h3v3h-3zM275.5 831.5h3v3h-3zM279.5 832.5h3v3h-3zM277.5 837.5h3v3h-3zM284.5 848.5h3v3h-3zM162.5 872.5h3v3h-3zM165.5 872.5h3v3h-3zM167.5 872.5h3v3h-3zM171.5 880.5h3v3h-3zM152.5 883.5h3v3h-3zM155.5 887.5h3v3h-3zM150.5 892.5h3v3h-3zM156.5 892.5h3v3h-3zM156.5 897.5h3v3h-3z" fill="#5aa85a" fill-opacity="0.45" stroke="#217a21" stroke-width="0.9"/>
<path d="M224 342.5a1.5 1.5 0 1 0 3 0a1.5 1.5 0 1 0 -3 0zM225.5 344.5a1.5 1.5 0 1 0 3 0a1.5 1.5 0 1 0 -3 0zM222.5 340a1.5 1.5 0 1 0 3 0a1.5 1.5 0 1 0 -3 0zM242.5 356.5a1.5 1.5 0 1 0 3 0a1.5 1.5 0 1 0 -3 0zM244.5 359a1.5 1.5 0 1 0 3 0a1.5 1.5 0 1 0 -3 0zM247 360.5a1.5 1.5 0 1 0 3 0a1.5 1.5 0 1 0 -3 0zM245.5 367a1.5 1.5 0 1 0 3 0a1.5 1.5 0 1 0 -3 0zM248.5 368.5a1.5 1.5 0 1 0 3 0a1.5 1.5 0 1 0 -3 0zM224.5 363a1.5 1.5 0 1 0 3 0a1.5 1.5 0 1 0 -3 0zM226 366.5a1.5 1.5 0 1 0 3 0a1.5 1.5 0 1 0 -3 0zM234.5 364a1.5 1.5 0 1 0 3 0a1.5 1.5 0 1 0 -3 0zM237 366.5a1.5 1.5 0 1 0 3 0a1.5 1.5 0 1 0 -3 0zM244.5 352a1.5 1.5 0 1 0 3 0a1.5 1.5 0 1 0 -3 0zM242 349.5a1.5 1.5 0 1 0 3 0a1.5 1.5 0 1 0 -3 0zM205.7 307a1.5 1.5 0 1 0 3 0a1.5 1.5 0 1 0 -3 0zM215.7 308a1.5 1.5 0 1 0 3 0a1.5 1.5 0 1 0 -3 0zM216.9 310.3a1.5 1.5 0 1 0 3 0a1.5 1.5 0 1 0 -3 0zM217.5 312.6a1.5 1.5 0 1 0 3 0a1.5 1.5 0 1 0 -3 0zM218.4 314.6a1.5 1.5 0 1 0 3 0a1.5 1.5 0 1 0 -3 0zM222.6 314.9a1.5 1.5 0 1 0 3 0a1.5 1.5 0 1 0 -3 0zM208.8 314.9a1.5 1.5 0 1 0 3 0a1.5 1.5 0 1 0 -3 0zM202.7 316.5a1.5 1.5 0 1 0 3 0a1.5 1.5 0 1 0 -3 0zM211.9 320.3a1.5 1.5 0 1 0 3 0a1.5 1.5 0 1 0 -3 0zM195 321.1a1.5 1.5 0 1 0 3 0a1.5 1.5 0 1 0 -3 0zM184.3 321.1a1.5 1.5 0 1 0 3 0a1.5 1.5 0 1 0 -3 0zM193.5 324.9a1.5 1.5 0 1 0 3 0a1.5 1.5 0 1 0 -3 0zM205.7 323.4a1.5 1.5 0 1 0 3 0a1.5 1.5 0 1 0 -3 0zM207.7 326.4a1.5 1.5 0 1 0 3 0a1.5 1.5 0 1 0 -3 0zM211.9 324.4a1.5 1.5 0 1 0 3 0a1.5 1.5 0 1 0 -3 0zM223 326.4a1.5 1.5 0 1 0 3 0a1.5 1.5 0 1 0 -3 0zM226.4 328.7a1.5 1.5 0 1 0 3 0a1.5 1.5 0 1 0 -3 0zM235.9 328.7a1.5 1.5 0 1 0 3 0a1.5 1.5 0 1 0 -3 0zM250.6 333.3a1.5 1.5 0 1 0 3 0a1.5 1.5 0 1 0 -3 0zM212.6 333.3a1.5 1.5 0 1 0 3 0a1.5 1.5 0 1 0 -3 0zM209.6 335.6a1.5 1.5 0 1 0 3 0a1.5 1.5 0 1 0 -3 0zM203.4 335.6a1.5 1.5 0 1 0 3 0a1.5 1.5 0 1 0 -3 0zM196.5 337.2a1.5 1.5 0 1 0 3 0a1.5 1.5 0 1 0 -3 0zM205.7 339.8a1.5 1.5 0 1 0 3 0a1.5 1.5 0 1 0 -3 0zM220 335.6a1.5 1.5 0 1 0 3 0a1.5 1.5 0 1 0 -3 0zM219.1 338.7a1.5 1.5 0 1 0 3 0a1.5 1.5 0 1 0 -3 0zM214.9 341a1.5 1.5 0 1 0 3 0a1.5 1.5 0 1 0 -3 0zM218.8 342.2a1.5 1.5 0 1 0 3 0a1.5 1.5 0 1 0 -3 0zM223.7 341.7a1.5 1.5 0 1 0 3 0a1.5 1.5 0 1 0 -3 0zM224.9 343.7a1.5 1.5 0 1 0 3 0a1.5 1.5 0 1 0 -3 0zM227.6 338.7a1.5 1.5 0 1 0 3 0a1.5 1.5 0 1 0 -3 0zM237.1 339.5a1.5 1.5 0 1 0 3 0a1.5 1.5 0 1 0 -3 0zM245.1 337.2a1.5 1.5 0 1 0 3 0a1.5 1.5 0 1 0 -3 0zM246 339.1a1.5 1.5 0 1 0 3 0a1.5 1.5 0 1 0 -3 0zM252.2 341a1.5 1.5 0 1 0 3 0a1.5 1.5 0 1 0 -3 0zM248.6 342.8a1.5 1.5 0 1 0 3 0a1.5 1.5 0 1 0 -3 0zM253.7 344.8a1.5 1.5 0 1 0 3 0a1.5 1.5 0 1 0 -3 0zM212.6 345.3a1.5 1.5 0 1 0 3 0a1.5 1.5 0 1 0 -3 0zM214.9 344.8a1.5 1.5 0 1 0 3 0a1.5 1.5 0 1 0 -3 0zM201.9 345.6a1.5 1.5 0 1 0 3 0a1.5 1.5 0 1 0 -3 0zM222.6 347.1a1.5 1.5 0 1 0 3 0a1.5 1.5 0 1 0 -3 0zM229.5 347.9a1.5 1.5 0 1 0 3 0a1.5 1.5 0 1 0 -3 0zM236.4 344a1.5 1.5 0 1 0 3 0a1.5 1.5 0 1 0 -3 0zM235.3 346.3a1.5 1.5 0 1 0 3 0a1.5 1.5 0 1 0 -3 0zM239.9 344.8a1.5 1.5 0 1 0 3 0a1.5 1.5 0 1 0 -3 0zM241.7 345.6a1.5 1.5 0 1 0 3 0a1.5 1.5 0 1 0 -3 0zM239.5 348.6a1.5 1.5 0 1 0 3 0a1.5 1.5 0 1 0 -3 0zM244.8 348.3a1.5 1.5 0 1 0 3 0a1.5 1.5 0 1 0 -3 0zM254 348.3a1.5 1.5 0 1 0 3 0a1.5 1.5 0 1 0 -3 0zM221.8 351a1.5 1.5 0 1 0 3 0a1.5 1.5 0 1 0 -3 0zM225.7 351.7a1.5 1.5 0 1 0 3 0a1.5 1.5 0 1 0 -3 0zM211.9 353.2a1.5 1.5 0 1 0 3 0a1.5 1.5 0 1 0 -3 0zM219.1 354.5a1.5 1.5 0 1 0 3 0a1.5 1.5 0 1 0 -3 0zM221.5 355.5a1.5 1.5 0 1 0 3 0a1.5 1.5 0 1 0 -3 0zM228.7 354a1.5 1.5 0 1 0 3 0a1.5 1.5 0 1 0 -3 0zM231 354.8a1.5 1.5 0 1 0 3 0a1.5 1.5 0 1 0 -3 0zM237.9 352.9a1.5 1.5 0 1 0 3 0a1.5 1.5 0 1 0 -3 0zM239.5 354a1.5 1.5 0 1 0 3 0a1.5 1.5 0 1 0 -3 0zM241.7 355.5a1.5 1.5 0 1 0 3 0a1.5 1.5 0 1 0 -3 0zM244 356.3a1.5 1.5 0 1 0 3 0a1.5 1.5 0 1 0 -3 0zM245.6 357.8a1.5 1.5 0 1 0 3 0a1.5 1.5 0 1 0 -3 0zM242.5 357.1a1.5 1.5 0 1 0 3 0a1.5 1.5 0 1 0 -3 0zM237.1 357.8a1.5 1.5 0 1 0 3 0a1.5 1.5 0 1 0 -3 0zM249.4 352.5a1.5 1.5 0 1 0 3 0a1.5 1.5 0 1 0 -3 0zM250.9 357.8a1.5 1.5 0 1 0 3 0a1.5 1.5 0 1 0 -3 0zM254.8 356.3a1.5 1.5 0 1 0 3 0a1.5 1.5 0 1 0 -3 0zM260.9 354.5a1.5 1.5 0 1 0 3 0a1.5 1.5 0 1 0 -3 0zM257.8 359.4a1.5 1.5 0 1 0 3 0a1.5 1.5 0 1 0 -3 0zM267 359.1a1.5 1.5 0 1 0 3 0a1.5 1.5 0 1 0 -3 0zM218 357.8a1.5 1.5 0 1 0 3 0a1.5 1.5 0 1 0 -3 0zM214.9 361.7a1.5 1.5 0 1 0 3 0a1.5 1.5 0 1 0 -3 0zM208.8 360.6a1.5 1.5 0 1 0 3 0a1.5 1.5 0 1 0 -3 0zM206.5 363.2a1.5 1.5 0 1 0 3 0a1.5 1.5 0 1 0 -3 0zM223.7 361.7a1.5 1.5 0 1 0 3 0a1.5 1.5 0 1 0 -3 0zM224.9 364a1.5 1.5 0 1 0 3 0a1.5 1.5 0 1 0 -3 0zM224.1 366.3a1.5 1.5 0 1 0 3 0a1.5 1.5 0 1 0 -3 0zM234.1 362.4a1.5 1.5 0 1 0 3 0a1.5 1.5 0 1 0 -3 0zM235.6 365.5a1.5 1.5 0 1 0 3 0a1.5 1.5 0 1 0 -3 0zM245.6 362.4a1.5 1.5 0 1 0 3 0a1.5 1.5 0 1 0 -3 0zM246.3 365.2a1.5 1.5 0 1 0 3 0a1.5 1.5 0 1 0 -3 0zM247.9 363.2a1.5 1.5 0 1 0 3 0a1.5 1.5 0 1 0 -3 0zM250.9 364.7a1.5 1.5 0 1 0 3 0a1.5 1.5 0 1 0 -3 0zM254.3 363.2a1.5 1.5 0 1 0 3 0a1.5 1.5 0 1 0 -3 0zM259.4 362.4a1.5 1.5 0 1 0 3 0a1.5 1.5 0 1 0 -3 0zM256.3 367a1.5 1.5 0 1 0 3 0a1.5 1.5 0 1 0 -3 0zM267.5 364.7a1.5 1.5 0 1 0 3 0a1.5 1.5 0 1 0 -3 0zM210.8 367.3a1.5 1.5 0 1 0 3 0a1.5 1.5 0 1 0 -3 0zM228 368.3a1.5 1.5 0 1 0 3 0a1.5 1.5 0 1 0 -3 0zM237.9 367a1.5 1.5 0 1 0 3 0a1.5 1.5 0 1 0 -3 0zM222.6 371.5a1.5 1.5 0 1 0 3 0a1.5 1.5 0 1 0 -3 0zM228 369.5a1.5 1.5 0 1 0 3 0a1.5 1.5 0 1 0 -3 0zM224.1 374.6a1.5 1.5 0 1 0 3 0a1.5 1.5 0 1 0 -3 0zM225.2 376.1a1.5 1.5 0 1 0 3 0a1.5 1.5 0 1 0 -3 0zM226.4 377.2a1.5 1.5 0 1 0 3 0a1.5 1.5 0 1 0 -3 0zM228 379.9a1.5 1.5 0 1 0 3 0a1.5 1.5 0 1 0 -3 0zM231.8 373.8a1.5 1.5 0 1 0 3 0a1.5 1.5 0 1 0 -3 0zM234.1 372.6a1.5 1.5 0 1 0 3 0a1.5 1.5 0 1 0 -3 0zM235.6 375.3a1.5 1.5 0 1 0 3 0a1.5 1.5 0 1 0 -3 0zM240.2 374.1a1.5 1.5 0 1 0 3 0a1.5 1.5 0 1 0 -3 0zM239.5 376.9a1.5 1.5 0 1 0 3 0a1.5 1.5 0 1 0 -3 0zM244.8 376.1a1.5 1.5 0 1 0 3 0a1.5 1.5 0 1 0 -3 0zM247.6 372.3a1.5 1.5 0 1 0 3 0a1.5 1.5 0 1 0 -3 0zM248.6 370.7a1.5 1.5 0 1 0 3 0a1.5 1.5 0 1 0 -3 0zM249.4 370a1.5 1.5 0 1 0 3 0a1.5 1.5 0 1 0 -3 0zM246.3 373.8a1.5 1.5 0 1 0 3 0a1.5 1.5 0 1 0 -3 0zM241.7 379.6a1.5 1.5 0 1 0 3 0a1.5 1.5 0 1 0 -3 0zM243.3 380.7a1.5 1.5 0 1 0 3 0a1.5 1.5 0 1 0 -3 0zM248.6 381.5a1.5 1.5 0 1 0 3 0a1.5 1.5 0 1 0 -3 0zM253.7 381.8a1.5 1.5 0 1 0 3 0a1.5 1.5 0 1 0 -3 0zM258.6 379.9a1.5 1.5 0 1 0 3 0a1.5 1.5 0 1 0 -3 0zM260.1 376.9a1.5 1.5 0 1 0 3 0a1.5 1.5 0 1 0 -3 0zM260.9 372.3a1.5 1.5 0 1 0 3 0a1.5 1.5 0 1 0 -3 0zM267 379.2a1.5 1.5 0 1 0 3 0a1.5 1.5 0 1 0 -3 0zM271.2 378.4a1.5 1.5 0 1 0 3 0a1.5 1.5 0 1 0 -3 0zM275.5 371.5a1.5 1.5 0 1 0 3 0a1.5 1.5 0 1 0 -3 0zM279.3 381.2a1.5 1.5 0 1 0 3 0a1.5 1.5 0 1 0 -3 0zM264.7 382.7a1.5 1.5 0 1 0 3 0a1.5 1.5 0 1 0 -3 0zM271.6 383.8a1.5 1.5 0 1 0 3 0a1.5 1.5 0 1 0 -3 0zM267 386.4a1.5 1.5 0 1 0 3 0a1.5 1.5 0 1 0 -3 0zM265 387.9a1.5 1.5 0 1 0 3 0a1.5 1.5 0 1 0 -3 0zM261.7 386.8a1.5 1.5 0 1 0 3 0a1.5 1.5 0 1 0 -3 0zM257.8 389.9a1.5 1.5 0 1 0 3 0a1.5 1.5 0 1 0 -3 0zM255.5 391a1.5 1.5 0 1 0 3 0a1.5 1.5 0 1 0 -3 0zM253.7 391.4a1.5 1.5 0 1 0 3 0a1.5 1.5 0 1 0 -3 0zM249.7 386.8a1.5 1.5 0 1 0 3 0a1.5 1.5 0 1 0 -3 0zM247.1 383a1.5 1.5 0 1 0 3 0a1.5 1.5 0 1 0 -3 0zM243.6 386.1a1.5 1.5 0 1 0 3 0a1.5 1.5 0 1 0 -3 0zM242.5 388.8a1.5 1.5 0 1 0 3 0a1.5 1.5 0 1 0 -3 0zM239.9 386.1a1.5 1.5 0 1 0 3 0a1.5 1.5 0 1 0 -3 0zM236.4 391.4a1.5 1.5 0 1 0 3 0a1.5 1.5 0 1 0 -3 0zM232.2 386.8a1.5 1.5 0 1 0 3 0a1.5 1.5 0 1 0 -3 0zM231 385.3a1.5 1.5 0 1 0 3 0a1.5 1.5 0 1 0 -3 0zM228.7 384.2a1.5 1.5 0 1 0 3 0a1.5 1.5 0 1 0 -3 0zM225.7 385.3a1.5 1.5 0 1 0 3 0a1.5 1.5 0 1 0 -3 0zM223.7 389.9a1.5 1.5 0 1 0 3 0a1.5 1.5 0 1 0 -3 0zM222.6 390.7a1.5 1.5 0 1 0 3 0a1.5 1.5 0 1 0 -3 0zM216.5 384.2a1.5 1.5 0 1 0 3 0a1.5 1.5 0 1 0 -3 0zM215.7 383a1.5 1.5 0 1 0 3 0a1.5 1.5 0 1 0 -3 0zM211.9 384.5a1.5 1.5 0 1 0 3 0a1.5 1.5 0 1 0 -3 0zM219.5 395a1.5 1.5 0 1 0 3 0a1.5 1.5 0 1 0 -3 0zM228 396.8a1.5 1.5 0 1 0 3 0a1.5 1.5 0 1 0 -3 0zM231.3 399.1a1.5 1.5 0 1 0 3 0a1.5 1.5 0 1 0 -3 0zM243.3 397.1a1.5 1.5 0 1 0 3 0a1.5 1.5 0 1 0 -3 0zM247.6 396.5a1.5 1.5 0 1 0 3 0a1.5 1.5 0 1 0 -3 0zM266.3 391.4a1.5 1.5 0 1 0 3 0a1.5 1.5 0 1 0 -3 0zM267.8 393.4a1.5 1.5 0 1 0 3 0a1.5 1.5 0 1 0 -3 0zM269 402.2a1.5 1.5 0 1 0 3 0a1.5 1.5 0 1 0 -3 0zM222.1 400.2a1.5 1.5 0 1 0 3 0a1.5 1.5 0 1 0 -3 0zM221.1 401.7a1.5 1.5 0 1 0 3 0a1.5 1.5 0 1 0 -3 0zM218 404.5a1.5 1.5 0 1 0 3 0a1.5 1.5 0 1 0 -3 0zM220 404.8a1.5 1.5 0 1 0 3 0a1.5 1.5 0 1 0 -3 0zM229.2 404.1a1.5 1.5 0 1 0 3 0a1.5 1.5 0 1 0 -3 0zM240.2 401.4a1.5 1.5 0 1 0 3 0a1.5 1.5 0 1 0 -3 0zM243 406.8a1.5 1.5 0 1 0 3 0a1.5 1.5 0 1 0 -3 0zM223 410.6a1.5 1.5 0 1 0 3 0a1.5 1.5 0 1 0 -3 0zM232.2 420.5a1.5 1.5 0 1 0 3 0a1.5 1.5 0 1 0 -3 0zM224.1 424.1a1.5 1.5 0 1 0 3 0a1.5 1.5 0 1 0 -3 0zM211.1 367.4a1.5 1.5 0 1 0 3 0a1.5 1.5 0 1 0 -3 0zM207.3 363.4a1.5 1.5 0 1 0 3 0a1.5 1.5 0 1 0 -3 0zM214.9 362.3a1.5 1.5 0 1 0 3 0a1.5 1.5 0 1 0 -3 0zM422.6 289.7a1.5 1.5 0 1 0 3 0a1.5 1.5 0 1 0 -3 0zM424.1 294.8a1.5 1.5 0 1 0 3 0a1.5 1.5 0 1 0 -3 0zM424.4 295.3a1.5 1.5 0 1 0 3 0a1.5 1.5 0 1 0 -3 0zM419.5 302.9a1.5 1.5 0 1 0 3 0a1.5 1.5 0 1 0 -3 0zM430 302.4a1.5 1.5 0 1 0 3 0a1.5 1.5 0 1 0 -3 0zM430.5 306.1a1.5 1.5 0 1 0 3 0a1.5 1.5 0 1 0 -3 0zM408.3 305.6a1.5 1.5 0 1 0 3 0a1.5 1.5 0 1 0 -3 0zM411.8 310.5a1.5 1.5 0 1 0 3 0a1.5 1.5 0 1 0 -3 0zM419.1 309.4a1.5 1.5 0 1 0 3 0a1.5 1.5 0 1 0 -3 0zM428.5 309.4a1.5 1.5 0 1 0 3 0a1.5 1.5 0 1 0 -3 0zM424.6 310.8a1.5 1.5 0 1 0 3 0a1.5 1.5 0 1 0 -3 0zM423.2 313.1a1.5 1.5 0 1 0 3 0a1.5 1.5 0 1 0 -3 0zM430 312.6a1.5 1.5 0 1 0 3 0a1.5 1.5 0 1 0 -3 0zM434.7 312.9a1.5 1.5 0 1 0 3 0a1.5 1.5 0 1 0 -3 0zM405.5 312.6a1.5 1.5 0 1 0 3 0a1.5 1.5 0 1 0 -3 0zM413.6 316.1a1.5 1.5 0 1 0 3 0a1.5 1.5 0 1 0 -3 0zM413.9 316.9a1.5 1.5 0 1 0 3 0a1.5 1.5 0 1 0 -3 0zM421.1 316.1a1.5 1.5 0 1 0 3 0a1.5 1.5 0 1 0 -3 0zM430.8 319.9a1.5 1.5 0 1 0 3 0a1.5 1.5 0 1 0 -3 0zM414.5 322.2a1.5 1.5 0 1 0 3 0a1.5 1.5 0 1 0 -3 0zM423.8 321a1.5 1.5 0 1 0 3 0a1.5 1.5 0 1 0 -3 0zM425.3 322.8a1.5 1.5 0 1 0 3 0a1.5 1.5 0 1 0 -3 0zM443.7 323.6a1.5 1.5 0 1 0 3 0a1.5 1.5 0 1 0 -3 0zM417.4 327.5a1.5 1.5 0 1 0 3 0a1.5 1.5 0 1 0 -3 0zM419.1 328.6a1.5 1.5 0 1 0 3 0a1.5 1.5 0 1 0 -3 0zM420.6 327.5a1.5 1.5 0 1 0 3 0a1.5 1.5 0 1 0 -3 0zM425 328.3a1.5 1.5 0 1 0 3 0a1.5 1.5 0 1 0 -3 0zM430.8 328.3a1.5 1.5 0 1 0 3 0a1.5 1.5 0 1 0 -3 0zM412.9 329.4a1.5 1.5 0 1 0 3 0a1.5 1.5 0 1 0 -3 0zM414.8 331a1.5 1.5 0 1 0 3 0a1.5 1.5 0 1 0 -3 0zM437 329.4a1.5 1.5 0 1 0 3 0a1.5 1.5 0 1 0 -3 0zM418 333.3a1.5 1.5 0 1 0 3 0a1.5 1.5 0 1 0 -3 0zM436.6 333.3a1.5 1.5 0 1 0 3 0a1.5 1.5 0 1 0 -3 0zM410.1 333.9a1.5 1.5 0 1 0 3 0a1.5 1.5 0 1 0 -3 0zM407.5 336.5a1.5 1.5 0 1 0 3 0a1.5 1.5 0 1 0 -3 0zM419.5 336.2a1.5 1.5 0 1 0 3 0a1.5 1.5 0 1 0 -3 0zM416.8 339.7a1.5 1.5 0 1 0 3 0a1.5 1.5 0 1 0 -3 0zM419.9 339.7a1.5 1.5 0 1 0 3 0a1.5 1.5 0 1 0 -3 0zM423.2 340.9a1.5 1.5 0 1 0 3 0a1.5 1.5 0 1 0 -3 0zM447.5 335.1a1.5 1.5 0 1 0 3 0a1.5 1.5 0 1 0 -3 0zM455.7 337.4a1.5 1.5 0 1 0 3 0a1.5 1.5 0 1 0 -3 0zM441.7 339.1a1.5 1.5 0 1 0 3 0a1.5 1.5 0 1 0 -3 0zM435.8 343.2a1.5 1.5 0 1 0 3 0a1.5 1.5 0 1 0 -3 0zM425.8 345.6a1.5 1.5 0 1 0 3 0a1.5 1.5 0 1 0 -3 0zM452.4 343.8a1.5 1.5 0 1 0 3 0a1.5 1.5 0 1 0 -3 0zM455.9 343.8a1.5 1.5 0 1 0 3 0a1.5 1.5 0 1 0 -3 0zM423.5 348.8a1.5 1.5 0 1 0 3 0a1.5 1.5 0 1 0 -3 0zM431.6 347.9a1.5 1.5 0 1 0 3 0a1.5 1.5 0 1 0 -3 0zM439.6 350.5a1.5 1.5 0 1 0 3 0a1.5 1.5 0 1 0 -3 0zM442.5 349.6a1.5 1.5 0 1 0 3 0a1.5 1.5 0 1 0 -3 0zM405.7 354.3a1.5 1.5 0 1 0 3 0a1.5 1.5 0 1 0 -3 0zM411.3 355.1a1.5 1.5 0 1 0 3 0a1.5 1.5 0 1 0 -3 0zM413.6 355.1a1.5 1.5 0 1 0 3 0a1.5 1.5 0 1 0 -3 0zM427.9 352.8a1.5 1.5 0 1 0 3 0a1.5 1.5 0 1 0 -3 0zM431.6 355.5a1.5 1.5 0 1 0 3 0a1.5 1.5 0 1 0 -3 0zM426.5 356.7a1.5 1.5 0 1 0 3 0a1.5 1.5 0 1 0 -3 0zM435.5 356.3a1.5 1.5 0 1 0 3 0a1.5 1.5 0 1 0 -3 0zM437 357.2a1.5 1.5 0 1 0 3 0a1.5 1.5 0 1 0 -3 0zM441 357.2a1.5 1.5 0 1 0 3 0a1.5 1.5 0 1 0 -3 0zM419.9 358.4a1.5 1.5 0 1 0 3 0a1.5 1.5 0 1 0 -3 0zM412.9 359a1.5 1.5 0 1 0 3 0a1.5 1.5 0 1 0 -3 0zM410.6 361.3a1.5 1.5 0 1 0 3 0a1.5 1.5 0 1 0 -3 0zM449.1 359.3a1.5 1.5 0 1 0 3 0a1.5 1.5 0 1 0 -3 0zM419.5 362.5a1.5 1.5 0 1 0 3 0a1.5 1.5 0 1 0 -3 0zM422 365.6a1.5 1.5 0 1 0 3 0a1.5 1.5 0 1 0 -3 0zM433.7 364.5a1.5 1.5 0 1 0 3 0a1.5 1.5 0 1 0 -3 0zM435.5 364a1.5 1.5 0 1 0 3 0a1.5 1.5 0 1 0 -3 0zM431.4 366.6a1.5 1.5 0 1 0 3 0a1.5 1.5 0 1 0 -3 0zM428.8 367.5a1.5 1.5 0 1 0 3 0a1.5 1.5 0 1 0 -3 0zM426.7 369.2a1.5 1.5 0 1 0 3 0a1.5 1.5 0 1 0 -3 0zM442.1 368a1.5 1.5 0 1 0 3 0a1.5 1.5 0 1 0 -3 0zM447.2 366.6a1.5 1.5 0 1 0 3 0a1.5 1.5 0 1 0 -3 0zM455.9 368.9a1.5 1.5 0 1 0 3 0a1.5 1.5 0 1 0 -3 0zM400.4 373.4a1.5 1.5 0 1 0 3 0a1.5 1.5 0 1 0 -3 0zM403.9 372.2a1.5 1.5 0 1 0 3 0a1.5 1.5 0 1 0 -3 0zM406.6 371.3a1.5 1.5 0 1 0 3 0a1.5 1.5 0 1 0 -3 0zM415 370.1a1.5 1.5 0 1 0 3 0a1.5 1.5 0 1 0 -3 0zM414.5 371.8a1.5 1.5 0 1 0 3 0a1.5 1.5 0 1 0 -3 0zM418.3 372.4a1.5 1.5 0 1 0 3 0a1.5 1.5 0 1 0 -3 0zM425 373.4a1.5 1.5 0 1 0 3 0a1.5 1.5 0 1 0 -3 0zM425.6 374.2a1.5 1.5 0 1 0 3 0a1.5 1.5 0 1 0 -3 0zM440.1 372.7a1.5 1.5 0 1 0 3 0a1.5 1.5 0 1 0 -3 0zM435.5 375.3a1.5 1.5 0 1 0 3 0a1.5 1.5 0 1 0 -3 0zM437.2 375.3a1.5 1.5 0 1 0 3 0a1.5 1.5 0 1 0 -3 0zM410 377.2a1.5 1.5 0 1 0 3 0a1.5 1.5 0 1 0 -3 0zM417.9 377.2a1.5 1.5 0 1 0 3 0a1.5 1.5 0 1 0 -3 0zM419.6 379.9a1.5 1.5 0 1 0 3 0a1.5 1.5 0 1 0 -3 0zM425.4 373.9a1.5 1.5 0 1 0 3 0a1.5 1.5 0 1 0 -3 0zM433.7 376.6a1.5 1.5 0 1 0 3 0a1.5 1.5 0 1 0 -3 0zM437.2 375.9a1.5 1.5 0 1 0 3 0a1.5 1.5 0 1 0 -3 0zM440.9 376.3a1.5 1.5 0 1 0 3 0a1.5 1.5 0 1 0 -3 0zM459 373.7a1.5 1.5 0 1 0 3 0a1.5 1.5 0 1 0 -3 0zM408.7 383.8a1.5 1.5 0 1 0 3 0a1.5 1.5 0 1 0 -3 0zM423.8 383.1a1.5 1.5 0 1 0 3 0a1.5 1.5 0 1 0 -3 0zM427.1 382.5a1.5 1.5 0 1 0 3 0a1.5 1.5 0 1 0 -3 0zM430.4 381.8a1.5 1.5 0 1 0 3 0a1.5 1.5 0 1 0 -3 0zM444.2 382.1a1.5 1.5 0 1 0 3 0a1.5 1.5 0 1 0 -3 0zM427.1 386.4a1.5 1.5 0 1 0 3 0a1.5 1.5 0 1 0 -3 0zM429.7 387.1a1.5 1.5 0 1 0 3 0a1.5 1.5 0 1 0 -3 0zM437.6 385.1a1.5 1.5 0 1 0 3 0a1.5 1.5 0 1 0 -3 0zM440.9 387.7a1.5 1.5 0 1 0 3 0a1.5 1.5 0 1 0 -3 0zM443.5 388.4a1.5 1.5 0 1 0 3 0a1.5 1.5 0 1 0 -3 0zM414.6 388.4a1.5 1.5 0 1 0 3 0a1.5 1.5 0 1 0 -3 0zM416.6 389.7a1.5 1.5 0 1 0 3 0a1.5 1.5 0 1 0 -3 0zM419.2 388.4a1.5 1.5 0 1 0 3 0a1.5 1.5 0 1 0 -3 0zM421.2 390.4a1.5 1.5 0 1 0 3 0a1.5 1.5 0 1 0 -3 0zM412.6 391a1.5 1.5 0 1 0 3 0a1.5 1.5 0 1 0 -3 0zM410 393.4a1.5 1.5 0 1 0 3 0a1.5 1.5 0 1 0 -3 0zM417.2 393.7a1.5 1.5 0 1 0 3 0a1.5 1.5 0 1 0 -3 0zM419.2 394.3a1.5 1.5 0 1 0 3 0a1.5 1.5 0 1 0 -3 0zM426.4 391a1.5 1.5 0 1 0 3 0a1.5 1.5 0 1 0 -3 0zM428.4 389.7a1.5 1.5 0 1 0 3 0a1.5 1.5 0 1 0 -3 0zM435 389.7a1.5 1.5 0 1 0 3 0a1.5 1.5 0 1 0 -3 0zM435.9 393.7a1.5 1.5 0 1 0 3 0a1.5 1.5 0 1 0 -3 0zM452.7 392.3a1.5 1.5 0 1 0 3 0a1.5 1.5 0 1 0 -3 0zM463.5 389.4a1.5 1.5 0 1 0 3 0a1.5 1.5 0 1 0 -3 0zM429.7 398.2a1.5 1.5 0 1 0 3 0a1.5 1.5 0 1 0 -3 0zM427.5 401.5a1.5 1.5 0 1 0 3 0a1.5 1.5 0 1 0 -3 0zM422.7 402.6a1.5 1.5 0 1 0 3 0a1.5 1.5 0 1 0 -3 0zM412.2 400.5a1.5 1.5 0 1 0 3 0a1.5 1.5 0 1 0 -3 0zM415.3 401.5a1.5 1.5 0 1 0 3 0a1.5 1.5 0 1 0 -3 0zM408.3 405.2a1.5 1.5 0 1 0 3 0a1.5 1.5 0 1 0 -3 0zM415.3 405.5a1.5 1.5 0 1 0 3 0a1.5 1.5 0 1 0 -3 0zM436.3 403.5a1.5 1.5 0 1 0 3 0a1.5 1.5 0 1 0 -3 0zM441.9 401.3a1.5 1.5 0 1 0 3 0a1.5 1.5 0 1 0 -3 0zM447.5 400a1.5 1.5 0 1 0 3 0a1.5 1.5 0 1 0 -3 0zM444.2 406.1a1.5 1.5 0 1 0 3 0a1.5 1.5 0 1 0 -3 0zM456 409.2a1.5 1.5 0 1 0 3 0a1.5 1.5 0 1 0 -3 0zM436.3 409.2a1.5 1.5 0 1 0 3 0a1.5 1.5 0 1 0 -3 0zM430.4 409.4a1.5 1.5 0 1 0 3 0a1.5 1.5 0 1 0 -3 0zM432.3 411.8a1.5 1.5 0 1 0 3 0a1.5 1.5 0 1 0 -3 0zM428.4 413.4a1.5 1.5 0 1 0 3 0a1.5 1.5 0 1 0 -3 0zM426.7 415.3a1.5 1.5 0 1 0 3 0a1.5 1.5 0 1 0 -3 0zM422.5 415.3a1.5 1.5 0 1 0 3 0a1.5 1.5 0 1 0 -3 0zM415.3 414a1.5 1.5 0 1 0 3 0a1.5 1.5 0 1 0 -3 0zM400.1 412a1.5 1.5 0 1 0 3 0a1.5 1.5 0 1 0 -3 0zM416.6 417.3a1.5 1.5 0 1 0 3 0a1.5 1.5 0 1 0 -3 0zM417.2 421.2a1.5 1.5 0 1 0 3 0a1.5 1.5 0 1 0 -3 0zM422.7 421.2a1.5 1.5 0 1 0 3 0a1.5 1.5 0 1 0 -3 0zM423.8 423.2a1.5 1.5 0 1 0 3 0a1.5 1.5 0 1 0 -3 0zM430.4 423.2a1.5 1.5 0 1 0 3 0a1.5 1.5 0 1 0 -3 0zM444.8 416a1.5 1.5 0 1 0 3 0a1.5 1.5 0 1 0 -3 0zM451.4 418.6a1.5 1.5 0 1 0 3 0a1.5 1.5 0 1 0 -3 0zM404.4 420.6a1.5 1.5 0 1 0 3 0a1.5 1.5 0 1 0 -3 0zM444.8 421.2a1.5 1.5 0 1 0 3 0a1.5 1.5 0 1 0 -3 0zM425.4 437.3a1.5 1.5 0 1 0 3 0a1.5 1.5 0 1 0 -3 0zM426.2 439a1.5 1.5 0 1 0 3 0a1.5 1.5 0 1 0 -3 0zM429.3 436.7a1.5 1.5 0 1 0 3 0a1.5 1.5 0 1 0 -3 0zM437.2 436.4a1.5 1.5 0 1 0 3 0a1.5 1.5 0 1 0 -3 0zM438 439a1.5 1.5 0 1 0 3 0a1.5 1.5 0 1 0 -3 0zM432.7 442.5a1.5 1.5 0 1 0 3 0a1.5 1.5 0 1 0 -3 0zM452.4 436.7a1.5 1.5 0 1 0 3 0a1.5 1.5 0 1 0 -3 0zM411.3 444.9a1.5 1.5 0 1 0 3 0a1.5 1.5 0 1 0 -3 0zM418.8 445.9a1.5 1.5 0 1 0 3 0a1.5 1.5 0 1 0 -3 0zM417.2 449.5a1.5 1.5 0 1 0 3 0a1.5 1.5 0 1 0 -3 0zM423.1 451.5a1.5 1.5 0 1 0 3 0a1.5 1.5 0 1 0 -3 0zM424.5 453.4a1.5 1.5 0 1 0 3 0a1.5 1.5 0 1 0 -3 0zM407.8 452.1a1.5 1.5 0 1 0 3 0a1.5 1.5 0 1 0 -3 0zM433.3 451.2a1.5 1.5 0 1 0 3 0a1.5 1.5 0 1 0 -3 0zM432.3 454.1a1.5 1.5 0 1 0 3 0a1.5 1.5 0 1 0 -3 0zM437.6 455.1a1.5 1.5 0 1 0 3 0a1.5 1.5 0 1 0 -3 0zM446.1 445.9a1.5 1.5 0 1 0 3 0a1.5 1.5 0 1 0 -3 0zM445.9 452.8a1.5 1.5 0 1 0 3 0a1.5 1.5 0 1 0 -3 0zM429.7 457.8a1.5 1.5 0 1 0 3 0a1.5 1.5 0 1 0 -3 0zM408 429.1a1.5 1.5 0 1 0 3 0a1.5 1.5 0 1 0 -3 0zM415.9 430.4a1.5 1.5 0 1 0 3 0a1.5 1.5 0 1 0 -3 0zM420 427.5a1.5 1.5 0 1 0 3 0a1.5 1.5 0 1 0 -3 0zM431.5 431.5a1.5 1.5 0 1 0 3 0a1.5 1.5 0 1 0 -3 0zM438.5 428.5a1.5 1.5 0 1 0 3 0a1.5 1.5 0 1 0 -3 0zM423.5 433a1.5 1.5 0 1 0 3 0a1.5 1.5 0 1 0 -3 0zM125 811.8a1.5 1.5 0 1 0 3 0a1.5 1.5 0 1 0 -3 0zM121.2 814.5a1.5 1.5 0 1 0 3 0a1.5 1.5 0 1 0 -3 0zM130.7 815.9a1.5 1.5 0 1 0 3 0a1.5 1.5 0 1 0 -3 0zM119.3 819a1.5 1.5 0 1 0 3 0a1.5 1.5 0 1 0 -3 0zM111.7 822.8a1.5 1.5 0 1 0 3 0a1.5 1.5 0 1 0 -3 0zM130.2 827.3a1.5 1.5 0 1 0 3 0a1.5 1.5 0 1 0 -3 0zM137.4 826.3a1.5 1.5 0 1 0 3 0a1.5 1.5 0 1 0 -3 0zM123.1 831.8a1.5 1.5 0 1 0 3 0a1.5 1.5 0 1 0 -3 0zM144 838a1.5 1.5 0 1 0 3 0a1.5 1.5 0 1 0 -3 0zM142.1 838.4a1.5 1.5 0 1 0 3 0a1.5 1.5 0 1 0 -3 0zM120.8 840.9a1.5 1.5 0 1 0 3 0a1.5 1.5 0 1 0 -3 0zM116 846.7a1.5 1.5 0 1 0 3 0a1.5 1.5 0 1 0 -3 0zM126.5 846.7a1.5 1.5 0 1 0 3 0a1.5 1.5 0 1 0 -3 0zM106.1 850.5a1.5 1.5 0 1 0 3 0a1.5 1.5 0 1 0 -3 0zM165.5 722.7a1.5 1.5 0 1 0 3 0a1.5 1.5 0 1 0 -3 0zM162.2 725.1a1.5 1.5 0 1 0 3 0a1.5 1.5 0 1 0 -3 0zM154.2 733.2a1.5 1.5 0 1 0 3 0a1.5 1.5 0 1 0 -3 0zM157.5 736a1.5 1.5 0 1 0 3 0a1.5 1.5 0 1 0 -3 0zM161.7 740.8a1.5 1.5 0 1 0 3 0a1.5 1.5 0 1 0 -3 0zM180.2 740.3a1.5 1.5 0 1 0 3 0a1.5 1.5 0 1 0 -3 0zM183.1 740.8a1.5 1.5 0 1 0 3 0a1.5 1.5 0 1 0 -3 0zM166 748.8a1.5 1.5 0 1 0 3 0a1.5 1.5 0 1 0 -3 0zM188.8 747.9a1.5 1.5 0 1 0 3 0a1.5 1.5 0 1 0 -3 0zM174.6 753.1a1.5 1.5 0 1 0 3 0a1.5 1.5 0 1 0 -3 0zM177.4 758.8a1.5 1.5 0 1 0 3 0a1.5 1.5 0 1 0 -3 0zM176.5 765.9a1.5 1.5 0 1 0 3 0a1.5 1.5 0 1 0 -3 0zM174.6 768.1a1.5 1.5 0 1 0 3 0a1.5 1.5 0 1 0 -3 0zM199.7 765a1.5 1.5 0 1 0 3 0a1.5 1.5 0 1 0 -3 0zM147.5 778.5a1.5 1.5 0 1 0 3 0a1.5 1.5 0 1 0 -3 0zM164.5 736.5a1.5 1.5 0 1 0 3 0a1.5 1.5 0 1 0 -3 0zM171 750a1.5 1.5 0 1 0 3 0a1.5 1.5 0 1 0 -3 0zM160.5 736.5a1.5 1.5 0 1 0 3 0a1.5 1.5 0 1 0 -3 0zM169 744.8a1.5 1.5 0 1 0 3 0a1.5 1.5 0 1 0 -3 0zM205.8 787.9a1.5 1.5 0 1 0 3 0a1.5 1.5 0 1 0 -3 0zM206.6 790.5a1.5 1.5 0 1 0 3 0a1.5 1.5 0 1 0 -3 0zM217.1 793.1a1.5 1.5 0 1 0 3 0a1.5 1.5 0 1 0 -3 0zM220.7 796.2a1.5 1.5 0 1 0 3 0a1.5 1.5 0 1 0 -3 0zM212.3 797.5a1.5 1.5 0 1 0 3 0a1.5 1.5 0 1 0 -3 0zM245.2 800.6a1.5 1.5 0 1 0 3 0a1.5 1.5 0 1 0 -3 0zM218.9 805.4a1.5 1.5 0 1 0 3 0a1.5 1.5 0 1 0 -3 0zM219.8 815.5a1.5 1.5 0 1 0 3 0a1.5 1.5 0 1 0 -3 0zM222 818.5a1.5 1.5 0 1 0 3 0a1.5 1.5 0 1 0 -3 0zM204.5 817a1.5 1.5 0 1 0 3 0a1.5 1.5 0 1 0 -3 0zM246.5 813.1a1.5 1.5 0 1 0 3 0a1.5 1.5 0 1 0 -3 0zM236.4 823.4a1.5 1.5 0 1 0 3 0a1.5 1.5 0 1 0 -3 0zM251.7 824.7a1.5 1.5 0 1 0 3 0a1.5 1.5 0 1 0 -3 0zM243.9 830.6a1.5 1.5 0 1 0 3 0a1.5 1.5 0 1 0 -3 0zM229.4 831.5a1.5 1.5 0 1 0 3 0a1.5 1.5 0 1 0 -3 0zM240.8 835.6a1.5 1.5 0 1 0 3 0a1.5 1.5 0 1 0 -3 0zM245.5 800.9a1.5 1.5 0 1 0 3 0a1.5 1.5 0 1 0 -3 0zM246.4 813.1a1.5 1.5 0 1 0 3 0a1.5 1.5 0 1 0 -3 0zM260.8 814a1.5 1.5 0 1 0 3 0a1.5 1.5 0 1 0 -3 0zM260 817.5a1.5 1.5 0 1 0 3 0a1.5 1.5 0 1 0 -3 0zM254.3 820.1a1.5 1.5 0 1 0 3 0a1.5 1.5 0 1 0 -3 0zM251.6 824.1a1.5 1.5 0 1 0 3 0a1.5 1.5 0 1 0 -3 0zM254.7 823.5a1.5 1.5 0 1 0 3 0a1.5 1.5 0 1 0 -3 0zM244.6 826.3a1.5 1.5 0 1 0 3 0a1.5 1.5 0 1 0 -3 0zM240.7 835.5a1.5 1.5 0 1 0 3 0a1.5 1.5 0 1 0 -3 0zM271.8 825.8a1.5 1.5 0 1 0 3 0a1.5 1.5 0 1 0 -3 0zM282.7 827.2a1.5 1.5 0 1 0 3 0a1.5 1.5 0 1 0 -3 0zM280.5 835.9a1.5 1.5 0 1 0 3 0a1.5 1.5 0 1 0 -3 0zM272.7 838.1a1.5 1.5 0 1 0 3 0a1.5 1.5 0 1 0 -3 0zM271.6 842.9a1.5 1.5 0 1 0 3 0a1.5 1.5 0 1 0 -3 0zM279.2 845.1a1.5 1.5 0 1 0 3 0a1.5 1.5 0 1 0 -3 0zM276.6 850.6a1.5 1.5 0 1 0 3 0a1.5 1.5 0 1 0 -3 0zM149.2 871.1a1.5 1.5 0 1 0 3 0a1.5 1.5 0 1 0 -3 0zM179.5 870.7a1.5 1.5 0 1 0 3 0a1.5 1.5 0 1 0 -3 0zM186.2 873.2a1.5 1.5 0 1 0 3 0a1.5 1.5 0 1 0 -3 0zM164.3 877.6a1.5 1.5 0 1 0 3 0a1.5 1.5 0 1 0 -3 0zM151.1 878.5a1.5 1.5 0 1 0 3 0a1.5 1.5 0 1 0 -3 0zM147.3 887.3a1.5 1.5 0 1 0 3 0a1.5 1.5 0 1 0 -3 0zM151.1 890.1a1.5 1.5 0 1 0 3 0a1.5 1.5 0 1 0 -3 0zM159.6 895.8a1.5 1.5 0 1 0 3 0a1.5 1.5 0 1 0 -3 0z" fill="#2ae42a"/>
<path d="M93.7 129.2a1.4 1.4 0 1 0 2.8 0a1.4 1.4 0 1 0 -2.8 0zM93.4 128.6a1.4 1.4 0 1 0 2.8 0a1.4 1.4 0 1 0 -2.8 0zM101.6 119.9a1.4 1.4 0 1 0 2.8 0a1.4 1.4 0 1 0 -2.8 0zM101.4 135a1.4 1.4 0 1 0 2.8 0a1.4 1.4 0 1 0 -2.8 0zM98.5 121.4a1.4 1.4 0 1 0 2.8 0a1.4 1.4 0 1 0 -2.8 0zM98.9 134.8a1.4 1.4 0 1 0 2.8 0a1.4 1.4 0 1 0 -2.8 0zM104.9 131.3a1.4 1.4 0 1 0 2.8 0a1.4 1.4 0 1 0 -2.8 0zM104.2 119.8a1.4 1.4 0 1 0 2.8 0a1.4 1.4 0 1 0 -2.8 0zM96.6 132.1a1.4 1.4 0 1 0 2.8 0a1.4 1.4 0 1 0 -2.8 0zM99 130.2a1.4 1.4 0 1 0 2.8 0a1.4 1.4 0 1 0 -2.8 0zM98.7 134.4a1.4 1.4 0 1 0 2.8 0a1.4 1.4 0 1 0 -2.8 0zM97.5 130a1.4 1.4 0 1 0 2.8 0a1.4 1.4 0 1 0 -2.8 0zM111.4 133.1a1.4 1.4 0 1 0 2.8 0a1.4 1.4 0 1 0 -2.8 0zM101.3 133.6a1.4 1.4 0 1 0 2.8 0a1.4 1.4 0 1 0 -2.8 0zM99 132.4a1.4 1.4 0 1 0 2.8 0a1.4 1.4 0 1 0 -2.8 0zM104.9 127.6a1.4 1.4 0 1 0 2.8 0a1.4 1.4 0 1 0 -2.8 0zM98.4 126.2a1.4 1.4 0 1 0 2.8 0a1.4 1.4 0 1 0 -2.8 0zM92.6 127.7a1.4 1.4 0 1 0 2.8 0a1.4 1.4 0 1 0 -2.8 0zM109 121.1a1.4 1.4 0 1 0 2.8 0a1.4 1.4 0 1 0 -2.8 0zM100.7 135.9a1.4 1.4 0 1 0 2.8 0a1.4 1.4 0 1 0 -2.8 0zM102 129.5a1.4 1.4 0 1 0 2.8 0a1.4 1.4 0 1 0 -2.8 0zM101.2 125.7a1.4 1.4 0 1 0 2.8 0a1.4 1.4 0 1 0 -2.8 0zM96 123.1a1.4 1.4 0 1 0 2.8 0a1.4 1.4 0 1 0 -2.8 0zM102.8 130.3a1.4 1.4 0 1 0 2.8 0a1.4 1.4 0 1 0 -2.8 0zM100.2 129.8a1.4 1.4 0 1 0 2.8 0a1.4 1.4 0 1 0 -2.8 0zM107.3 128.8a1.4 1.4 0 1 0 2.8 0a1.4 1.4 0 1 0 -2.8 0zM100.7 126.5a1.4 1.4 0 1 0 2.8 0a1.4 1.4 0 1 0 -2.8 0zM106.1 119.7a1.4 1.4 0 1 0 2.8 0a1.4 1.4 0 1 0 -2.8 0zM96.7 121.7a1.4 1.4 0 1 0 2.8 0a1.4 1.4 0 1 0 -2.8 0zM105.6 121.5a1.4 1.4 0 1 0 2.8 0a1.4 1.4 0 1 0 -2.8 0zM99.7 125.8a1.4 1.4 0 1 0 2.8 0a1.4 1.4 0 1 0 -2.8 0zM102.4 128.2a1.4 1.4 0 1 0 2.8 0a1.4 1.4 0 1 0 -2.8 0zM94.3 125.4a1.4 1.4 0 1 0 2.8 0a1.4 1.4 0 1 0 -2.8 0zM110.3 121.7a1.4 1.4 0 1 0 2.8 0a1.4 1.4 0 1 0 -2.8 0zM113 129.1a1.4 1.4 0 1 0 2.8 0a1.4 1.4 0 1 0 -2.8 0zM107.4 123.7a1.4 1.4 0 1 0 2.8 0a1.4 1.4 0 1 0 -2.8 0zM109.2 125.1a1.4 1.4 0 1 0 2.8 0a1.4 1.4 0 1 0 -2.8 0zM108.4 123a1.4 1.4 0 1 0 2.8 0a1.4 1.4 0 1 0 -2.8 0zM99.9 119.1a1.4 1.4 0 1 0 2.8 0a1.4 1.4 0 1 0 -2.8 0zM98.2 123.7a1.4 1.4 0 1 0 2.8 0a1.4 1.4 0 1 0 -2.8 0zM100.1 122.9a1.4 1.4 0 1 0 2.8 0a1.4 1.4 0 1 0 -2.8 0zM102.6 131.6a1.4 1.4 0 1 0 2.8 0a1.4 1.4 0 1 0 -2.8 0zM109.3 133.5a1.4 1.4 0 1 0 2.8 0a1.4 1.4 0 1 0 -2.8 0zM96 134.3a1.4 1.4 0 1 0 2.8 0a1.4 1.4 0 1 0 -2.8 0zM100.8 126.5a1.4 1.4 0 1 0 2.8 0a1.4 1.4 0 1 0 -2.8 0zM108 121.9a1.4 1.4 0 1 0 2.8 0a1.4 1.4 0 1 0 -2.8 0zM99.8 129.5a1.4 1.4 0 1 0 2.8 0a1.4 1.4 0 1 0 -2.8 0zM106.4 129a1.4 1.4 0 1 0 2.8 0a1.4 1.4 0 1 0 -2.8 0zM96.7 123.5a1.4 1.4 0 1 0 2.8 0a1.4 1.4 0 1 0 -2.8 0zM97.4 130.2a1.4 1.4 0 1 0 2.8 0a1.4 1.4 0 1 0 -2.8 0zM99.9 127.7a1.4 1.4 0 1 0 2.8 0a1.4 1.4 0 1 0 -2.8 0zM103.1 129.1a1.4 1.4 0 1 0 2.8 0a1.4 1.4 0 1 0 -2.8 0zM92.5 127.3a1.4 1.4 0 1 0 2.8 0a1.4 1.4 0 1 0 -2.8 0zM95.9 128a1.4 1.4 0 1 0 2.8 0a1.4 1.4 0 1 0 -2.8 0zM104.3 125a1.4 1.4 0 1 0 2.8 0a1.4 1.4 0 1 0 -2.8 0zM104.3 134.2a1.4 1.4 0 1 0 2.8 0a1.4 1.4 0 1 0 -2.8 0zM104.4 123.5a1.4 1.4 0 1 0 2.8 0a1.4 1.4 0 1 0 -2.8 0zM109.1 128.7a1.4 1.4 0 1 0 2.8 0a1.4 1.4 0 1 0 -2.8 0zM105.6 128.6a1.4 1.4 0 1 0 2.8 0a1.4 1.4 0 1 0 -2.8 0zM107.3 127.5a1.4 1.4 0 1 0 2.8 0a1.4 1.4 0 1 0 -2.8 0zM101.8 120a1.4 1.4 0 1 0 2.8 0a1.4 1.4 0 1 0 -2.8 0zM107.9 131.7a1.4 1.4 0 1 0 2.8 0a1.4 1.4 0 1 0 -2.8 0zM103.4 125.3a1.4 1.4 0 1 0 2.8 0a1.4 1.4 0 1 0 -2.8 0zM99.1 132.9a1.4 1.4 0 1 0 2.8 0a1.4 1.4 0 1 0 -2.8 0zM104.3 127.3a1.4 1.4 0 1 0 2.8 0a1.4 1.4 0 1 0 -2.8 0zM99.4 131a1.4 1.4 0 1 0 2.8 0a1.4 1.4 0 1 0 -2.8 0zM94.4 123.8a1.4 1.4 0 1 0 2.8 0a1.4 1.4 0 1 0 -2.8 0zM109.2 123.9a1.4 1.4 0 1 0 2.8 0a1.4 1.4 0 1 0 -2.8 0zM104.7 132.5a1.4 1.4 0 1 0 2.8 0a1.4 1.4 0 1 0 -2.8 0zM106.1 134.5a1.4 1.4 0 1 0 2.8 0a1.4 1.4 0 1 0 -2.8 0zM111.1 127.6a1.4 1.4 0 1 0 2.8 0a1.4 1.4 0 1 0 -2.8 0zM104.3 137a1.4 1.4 0 1 0 2.8 0a1.4 1.4 0 1 0 -2.8 0zM94.9 129a1.4 1.4 0 1 0 2.8 0a1.4 1.4 0 1 0 -2.8 0zM99 124.6a1.4 1.4 0 1 0 2.8 0a1.4 1.4 0 1 0 -2.8 0zM98.5 128.5a1.4 1.4 0 1 0 2.8 0a1.4 1.4 0 1 0 -2.8 0zM108.2 129.5a1.4 1.4 0 1 0 2.8 0a1.4 1.4 0 1 0 -2.8 0zM102.5 137.2a1.4 1.4 0 1 0 2.8 0a1.4 1.4 0 1 0 -2.8 0zM110.1 127.1a1.4 1.4 0 1 0 2.8 0a1.4 1.4 0 1 0 -2.8 0zM110.5 126.4a1.4 1.4 0 1 0 2.8 0a1.4 1.4 0 1 0 -2.8 0zM106.1 126.6a1.4 1.4 0 1 0 2.8 0a1.4 1.4 0 1 0 -2.8 0zM106.9 124.1a1.4 1.4 0 1 0 2.8 0a1.4 1.4 0 1 0 -2.8 0zM98.5 127.7a1.4 1.4 0 1 0 2.8 0a1.4 1.4 0 1 0 -2.8 0zM113.5 129.4a1.4 1.4 0 1 0 2.8 0a1.4 1.4 0 1 0 -2.8 0zM100.5 128a1.4 1.4 0 1 0 2.8 0a1.4 1.4 0 1 0 -2.8 0zM96.5 128.6a1.4 1.4 0 1 0 2.8 0a1.4 1.4 0 1 0 -2.8 0zM98.8 123.2a1.4 1.4 0 1 0 2.8 0a1.4 1.4 0 1 0 -2.8 0zM103.7 133.5a1.4 1.4 0 1 0 2.8 0a1.4 1.4 0 1 0 -2.8 0zM107.9 136.1a1.4 1.4 0 1 0 2.8 0a1.4 1.4 0 1 0 -2.8 0zM107.1 132.4a1.4 1.4 0 1 0 2.8 0a1.4 1.4 0 1 0 -2.8 0zM104.4 131.1a1.4 1.4 0 1 0 2.8 0a1.4 1.4 0 1 0 -2.8 0zM107.1 128.3a1.4 1.4 0 1 0 2.8 0a1.4 1.4 0 1 0 -2.8 0zM109.6 133.5a1.4 1.4 0 1 0 2.8 0a1.4 1.4 0 1 0 -2.8 0zM103.9 131.7a1.4 1.4 0 1 0 2.8 0a1.4 1.4 0 1 0 -2.8 0zM108.3 123.5a1.4 1.4 0 1 0 2.8 0a1.4 1.4 0 1 0 -2.8 0zM97.9 133.1a1.4 1.4 0 1 0 2.8 0a1.4 1.4 0 1 0 -2.8 0zM103 126.2a1.4 1.4 0 1 0 2.8 0a1.4 1.4 0 1 0 -2.8 0zM107.1 133.8a1.4 1.4 0 1 0 2.8 0a1.4 1.4 0 1 0 -2.8 0zM106.2 120a1.4 1.4 0 1 0 2.8 0a1.4 1.4 0 1 0 -2.8 0zM97.7 133.4a1.4 1.4 0 1 0 2.8 0a1.4 1.4 0 1 0 -2.8 0zM104.6 118.7a1.4 1.4 0 1 0 2.8 0a1.4 1.4 0 1 0 -2.8 0zM98 131.9a1.4 1.4 0 1 0 2.8 0a1.4 1.4 0 1 0 -2.8 0zM107 124.3a1.4 1.4 0 1 0 2.8 0a1.4 1.4 0 1 0 -2.8 0zM102.3 127.8a1.4 1.4 0 1 0 2.8 0a1.4 1.4 0 1 0 -2.8 0zM102 123.9a1.4 1.4 0 1 0 2.8 0a1.4 1.4 0 1 0 -2.8 0zM104.9 121.3a1.4 1.4 0 1 0 2.8 0a1.4 1.4 0 1 0 -2.8 0zM102.8 119a1.4 1.4 0 1 0 2.8 0a1.4 1.4 0 1 0 -2.8 0zM102.9 127.5a1.4 1.4 0 1 0 2.8 0a1.4 1.4 0 1 0 -2.8 0zM95.2 125.4a1.4 1.4 0 1 0 2.8 0a1.4 1.4 0 1 0 -2.8 0zM108.6 135.3a1.4 1.4 0 1 0 2.8 0a1.4 1.4 0 1 0 -2.8 0zM98.5 125.9a1.4 1.4 0 1 0 2.8 0a1.4 1.4 0 1 0 -2.8 0zM100 127.1a1.4 1.4 0 1 0 2.8 0a1.4 1.4 0 1 0 -2.8 0zM97.6 123.8a1.4 1.4 0 1 0 2.8 0a1.4 1.4 0 1 0 -2.8 0zM104.2 132.9a1.4 1.4 0 1 0 2.8 0a1.4 1.4 0 1 0 -2.8 0zM108.2 127.5a1.4 1.4 0 1 0 2.8 0a1.4 1.4 0 1 0 -2.8 0zM106.3 124.2a1.4 1.4 0 1 0 2.8 0a1.4 1.4 0 1 0 -2.8 0zM119.7 125.7a1.4 1.4 0 1 0 2.8 0a1.4 1.4 0 1 0 -2.8 0zM116.3 131.3a1.4 1.4 0 1 0 2.8 0a1.4 1.4 0 1 0 -2.8 0zM121 126.6a1.4 1.4 0 1 0 2.8 0a1.4 1.4 0 1 0 -2.8 0zM128 127.6a1.4 1.4 0 1 0 2.8 0a1.4 1.4 0 1 0 -2.8 0zM117.6 121.1a1.4 1.4 0 1 0 2.8 0a1.4 1.4 0 1 0 -2.8 0zM116.2 129.8a1.4 1.4 0 1 0 2.8 0a1.4 1.4 0 1 0 -2.8 0zM124.1 126.9a1.4 1.4 0 1 0 2.8 0a1.4 1.4 0 1 0 -2.8 0zM120.5 126.3a1.4 1.4 0 1 0 2.8 0a1.4 1.4 0 1 0 -2.8 0zM114.1 128.6a1.4 1.4 0 1 0 2.8 0a1.4 1.4 0 1 0 -2.8 0zM125.9 123.4a1.4 1.4 0 1 0 2.8 0a1.4 1.4 0 1 0 -2.8 0zM116.1 126.7a1.4 1.4 0 1 0 2.8 0a1.4 1.4 0 1 0 -2.8 0zM126.4 128a1.4 1.4 0 1 0 2.8 0a1.4 1.4 0 1 0 -2.8 0zM116.1 121.5a1.4 1.4 0 1 0 2.8 0a1.4 1.4 0 1 0 -2.8 0zM120.5 131.8a1.4 1.4 0 1 0 2.8 0a1.4 1.4 0 1 0 -2.8 0zM123.6 131.2a1.4 1.4 0 1 0 2.8 0a1.4 1.4 0 1 0 -2.8 0zM119.4 129.4a1.4 1.4 0 1 0 2.8 0a1.4 1.4 0 1 0 -2.8 0zM122.4 125a1.4 1.4 0 1 0 2.8 0a1.4 1.4 0 1 0 -2.8 0zM116.1 131a1.4 1.4 0 1 0 2.8 0a1.4 1.4 0 1 0 -2.8 0zM120.5 130a1.4 1.4 0 1 0 2.8 0a1.4 1.4 0 1 0 -2.8 0zM115.7 130.3a1.4 1.4 0 1 0 2.8 0a1.4 1.4 0 1 0 -2.8 0zM122.4 135.4a1.4 1.4 0 1 0 2.8 0a1.4 1.4 0 1 0 -2.8 0zM123.4 125a1.4 1.4 0 1 0 2.8 0a1.4 1.4 0 1 0 -2.8 0zM120.1 131.6a1.4 1.4 0 1 0 2.8 0a1.4 1.4 0 1 0 -2.8 0zM117.5 127.1a1.4 1.4 0 1 0 2.8 0a1.4 1.4 0 1 0 -2.8 0zM117.1 134.3a1.4 1.4 0 1 0 2.8 0a1.4 1.4 0 1 0 -2.8 0zM115.6 133.2a1.4 1.4 0 1 0 2.8 0a1.4 1.4 0 1 0 -2.8 0zM127.3 128.4a1.4 1.4 0 1 0 2.8 0a1.4 1.4 0 1 0 -2.8 0zM115.7 127a1.4 1.4 0 1 0 2.8 0a1.4 1.4 0 1 0 -2.8 0zM127 125.4a1.4 1.4 0 1 0 2.8 0a1.4 1.4 0 1 0 -2.8 0zM118.1 125.5a1.4 1.4 0 1 0 2.8 0a1.4 1.4 0 1 0 -2.8 0zM117.7 136.7a1.4 1.4 0 1 0 2.8 0a1.4 1.4 0 1 0 -2.8 0zM119 120.4a1.4 1.4 0 1 0 2.8 0a1.4 1.4 0 1 0 -2.8 0zM118.1 136.1a1.4 1.4 0 1 0 2.8 0a1.4 1.4 0 1 0 -2.8 0zM117.9 135.6a1.4 1.4 0 1 0 2.8 0a1.4 1.4 0 1 0 -2.8 0zM118.7 134.1a1.4 1.4 0 1 0 2.8 0a1.4 1.4 0 1 0 -2.8 0zM122 124.2a1.4 1.4 0 1 0 2.8 0a1.4 1.4 0 1 0 -2.8 0zM117.2 124.5a1.4 1.4 0 1 0 2.8 0a1.4 1.4 0 1 0 -2.8 0zM127.4 126.5a1.4 1.4 0 1 0 2.8 0a1.4 1.4 0 1 0 -2.8 0zM86.9 127.9a1.4 1.4 0 1 0 2.8 0a1.4 1.4 0 1 0 -2.8 0zM90.8 131.3a1.4 1.4 0 1 0 2.8 0a1.4 1.4 0 1 0 -2.8 0zM85.9 125.8a1.4 1.4 0 1 0 2.8 0a1.4 1.4 0 1 0 -2.8 0zM84.6 131a1.4 1.4 0 1 0 2.8 0a1.4 1.4 0 1 0 -2.8 0zM85.2 123a1.4 1.4 0 1 0 2.8 0a1.4 1.4 0 1 0 -2.8 0zM87.6 130.5a1.4 1.4 0 1 0 2.8 0a1.4 1.4 0 1 0 -2.8 0zM84.9 127a1.4 1.4 0 1 0 2.8 0a1.4 1.4 0 1 0 -2.8 0zM89.3 131a1.4 1.4 0 1 0 2.8 0a1.4 1.4 0 1 0 -2.8 0zM85.5 128.8a1.4 1.4 0 1 0 2.8 0a1.4 1.4 0 1 0 -2.8 0zM90 124.4a1.4 1.4 0 1 0 2.8 0a1.4 1.4 0 1 0 -2.8 0zM88.4 125.9a1.4 1.4 0 1 0 2.8 0a1.4 1.4 0 1 0 -2.8 0zM92.5 128.1a1.4 1.4 0 1 0 2.8 0a1.4 1.4 0 1 0 -2.8 0zM81.5 121.5a1.4 1.4 0 1 0 2.8 0a1.4 1.4 0 1 0 -2.8 0zM80.4 125.3a1.4 1.4 0 1 0 2.8 0a1.4 1.4 0 1 0 -2.8 0zM82.5 134.5a1.4 1.4 0 1 0 2.8 0a1.4 1.4 0 1 0 -2.8 0zM91.2 119.7a1.4 1.4 0 1 0 2.8 0a1.4 1.4 0 1 0 -2.8 0zM91.7 137.7a1.4 1.4 0 1 0 2.8 0a1.4 1.4 0 1 0 -2.8 0zM109 117.9a1.4 1.4 0 1 0 2.8 0a1.4 1.4 0 1 0 -2.8 0zM125.8 115a1.4 1.4 0 1 0 2.8 0a1.4 1.4 0 1 0 -2.8 0zM131.7 115.3a1.4 1.4 0 1 0 2.8 0a1.4 1.4 0 1 0 -2.8 0zM135.5 118.3a1.4 1.4 0 1 0 2.8 0a1.4 1.4 0 1 0 -2.8 0zM144.7 116.9a1.4 1.4 0 1 0 2.8 0a1.4 1.4 0 1 0 -2.8 0zM140.3 125.1a1.4 1.4 0 1 0 2.8 0a1.4 1.4 0 1 0 -2.8 0zM137.6 139.3a1.4 1.4 0 1 0 2.8 0a1.4 1.4 0 1 0 -2.8 0zM113.9 140.4a1.4 1.4 0 1 0 2.8 0a1.4 1.4 0 1 0 -2.8 0zM113.9 146.4a1.4 1.4 0 1 0 2.8 0a1.4 1.4 0 1 0 -2.8 0zM103.6 141a1.4 1.4 0 1 0 2.8 0a1.4 1.4 0 1 0 -2.8 0zM128.5 119.9a1.4 1.4 0 1 0 2.8 0a1.4 1.4 0 1 0 -2.8 0zM133.9 121.5a1.4 1.4 0 1 0 2.8 0a1.4 1.4 0 1 0 -2.8 0zM130.6 129.6a1.4 1.4 0 1 0 2.8 0a1.4 1.4 0 1 0 -2.8 0zM131.7 127.4a1.4 1.4 0 1 0 2.8 0a1.4 1.4 0 1 0 -2.8 0zM134.9 126.4a1.4 1.4 0 1 0 2.8 0a1.4 1.4 0 1 0 -2.8 0zM120.9 118.8a1.4 1.4 0 1 0 2.8 0a1.4 1.4 0 1 0 -2.8 0zM117.6 119.9a1.4 1.4 0 1 0 2.8 0a1.4 1.4 0 1 0 -2.8 0zM122 136.6a1.4 1.4 0 1 0 2.8 0a1.4 1.4 0 1 0 -2.8 0zM138.2 126.9a1.4 1.4 0 1 0 2.8 0a1.4 1.4 0 1 0 -2.8 0zM408 157.7a1.4 1.4 0 1 0 2.8 0a1.4 1.4 0 1 0 -2.8 0zM407.7 161.9a1.4 1.4 0 1 0 2.8 0a1.4 1.4 0 1 0 -2.8 0zM394.9 162.9a1.4 1.4 0 1 0 2.8 0a1.4 1.4 0 1 0 -2.8 0zM411.8 156a1.4 1.4 0 1 0 2.8 0a1.4 1.4 0 1 0 -2.8 0zM409.6 162.7a1.4 1.4 0 1 0 2.8 0a1.4 1.4 0 1 0 -2.8 0zM407.8 163.4a1.4 1.4 0 1 0 2.8 0a1.4 1.4 0 1 0 -2.8 0zM412.4 161.3a1.4 1.4 0 1 0 2.8 0a1.4 1.4 0 1 0 -2.8 0zM410 160.7a1.4 1.4 0 1 0 2.8 0a1.4 1.4 0 1 0 -2.8 0zM409.2 159.4a1.4 1.4 0 1 0 2.8 0a1.4 1.4 0 1 0 -2.8 0zM404.5 167.5a1.4 1.4 0 1 0 2.8 0a1.4 1.4 0 1 0 -2.8 0zM407.6 161.5a1.4 1.4 0 1 0 2.8 0a1.4 1.4 0 1 0 -2.8 0zM398.7 159.5a1.4 1.4 0 1 0 2.8 0a1.4 1.4 0 1 0 -2.8 0zM406.2 165a1.4 1.4 0 1 0 2.8 0a1.4 1.4 0 1 0 -2.8 0zM407.5 163.7a1.4 1.4 0 1 0 2.8 0a1.4 1.4 0 1 0 -2.8 0zM404.9 166.3a1.4 1.4 0 1 0 2.8 0a1.4 1.4 0 1 0 -2.8 0zM402.9 160.2a1.4 1.4 0 1 0 2.8 0a1.4 1.4 0 1 0 -2.8 0zM410.1 162.2a1.4 1.4 0 1 0 2.8 0a1.4 1.4 0 1 0 -2.8 0zM403.5 160.2a1.4 1.4 0 1 0 2.8 0a1.4 1.4 0 1 0 -2.8 0zM403.7 164a1.4 1.4 0 1 0 2.8 0a1.4 1.4 0 1 0 -2.8 0zM407.1 158.1a1.4 1.4 0 1 0 2.8 0a1.4 1.4 0 1 0 -2.8 0zM407.5 162.6a1.4 1.4 0 1 0 2.8 0a1.4 1.4 0 1 0 -2.8 0zM399.5 164.5a1.4 1.4 0 1 0 2.8 0a1.4 1.4 0 1 0 -2.8 0zM403.5 160.9a1.4 1.4 0 1 0 2.8 0a1.4 1.4 0 1 0 -2.8 0zM409.6 166.2a1.4 1.4 0 1 0 2.8 0a1.4 1.4 0 1 0 -2.8 0zM401.2 163.4a1.4 1.4 0 1 0 2.8 0a1.4 1.4 0 1 0 -2.8 0zM400.2 169.4a1.4 1.4 0 1 0 2.8 0a1.4 1.4 0 1 0 -2.8 0zM402.3 165.8a1.4 1.4 0 1 0 2.8 0a1.4 1.4 0 1 0 -2.8 0zM401.5 164.6a1.4 1.4 0 1 0 2.8 0a1.4 1.4 0 1 0 -2.8 0zM417.5 153.9a1.4 1.4 0 1 0 2.8 0a1.4 1.4 0 1 0 -2.8 0zM402.7 163.6a1.4 1.4 0 1 0 2.8 0a1.4 1.4 0 1 0 -2.8 0zM404.6 159.9a1.4 1.4 0 1 0 2.8 0a1.4 1.4 0 1 0 -2.8 0zM417.2 162.3a1.4 1.4 0 1 0 2.8 0a1.4 1.4 0 1 0 -2.8 0zM395.9 164.7a1.4 1.4 0 1 0 2.8 0a1.4 1.4 0 1 0 -2.8 0zM395.5 165.7a1.4 1.4 0 1 0 2.8 0a1.4 1.4 0 1 0 -2.8 0zM401.9 162.5a1.4 1.4 0 1 0 2.8 0a1.4 1.4 0 1 0 -2.8 0zM412.2 162.4a1.4 1.4 0 1 0 2.8 0a1.4 1.4 0 1 0 -2.8 0zM397.3 156.6a1.4 1.4 0 1 0 2.8 0a1.4 1.4 0 1 0 -2.8 0zM411.7 164.4a1.4 1.4 0 1 0 2.8 0a1.4 1.4 0 1 0 -2.8 0zM400.5 164.8a1.4 1.4 0 1 0 2.8 0a1.4 1.4 0 1 0 -2.8 0zM407.9 164.1a1.4 1.4 0 1 0 2.8 0a1.4 1.4 0 1 0 -2.8 0zM392.5 161a1.4 1.4 0 1 0 2.8 0a1.4 1.4 0 1 0 -2.8 0zM410.1 164.3a1.4 1.4 0 1 0 2.8 0a1.4 1.4 0 1 0 -2.8 0zM410 154.1a1.4 1.4 0 1 0 2.8 0a1.4 1.4 0 1 0 -2.8 0zM406 163.6a1.4 1.4 0 1 0 2.8 0a1.4 1.4 0 1 0 -2.8 0zM403.3 162.1a1.4 1.4 0 1 0 2.8 0a1.4 1.4 0 1 0 -2.8 0zM410.1 160.6a1.4 1.4 0 1 0 2.8 0a1.4 1.4 0 1 0 -2.8 0zM411.5 159.5a1.4 1.4 0 1 0 2.8 0a1.4 1.4 0 1 0 -2.8 0zM406.6 160.3a1.4 1.4 0 1 0 2.8 0a1.4 1.4 0 1 0 -2.8 0zM406 159.8a1.4 1.4 0 1 0 2.8 0a1.4 1.4 0 1 0 -2.8 0zM396.2 165.5a1.4 1.4 0 1 0 2.8 0a1.4 1.4 0 1 0 -2.8 0zM406.8 160.2a1.4 1.4 0 1 0 2.8 0a1.4 1.4 0 1 0 -2.8 0zM406.2 165.2a1.4 1.4 0 1 0 2.8 0a1.4 1.4 0 1 0 -2.8 0zM399.6 161.6a1.4 1.4 0 1 0 2.8 0a1.4 1.4 0 1 0 -2.8 0zM408.1 163.7a1.4 1.4 0 1 0 2.8 0a1.4 1.4 0 1 0 -2.8 0zM403.2 155.3a1.4 1.4 0 1 0 2.8 0a1.4 1.4 0 1 0 -2.8 0zM412.1 163.1a1.4 1.4 0 1 0 2.8 0a1.4 1.4 0 1 0 -2.8 0zM405.2 161.1a1.4 1.4 0 1 0 2.8 0a1.4 1.4 0 1 0 -2.8 0zM406.6 160.6a1.4 1.4 0 1 0 2.8 0a1.4 1.4 0 1 0 -2.8 0zM399.4 159.6a1.4 1.4 0 1 0 2.8 0a1.4 1.4 0 1 0 -2.8 0zM401.8 160a1.4 1.4 0 1 0 2.8 0a1.4 1.4 0 1 0 -2.8 0zM398.6 164a1.4 1.4 0 1 0 2.8 0a1.4 1.4 0 1 0 -2.8 0zM397.8 164.1a1.4 1.4 0 1 0 2.8 0a1.4 1.4 0 1 0 -2.8 0zM399.4 163.1a1.4 1.4 0 1 0 2.8 0a1.4 1.4 0 1 0 -2.8 0zM412.8 162.7a1.4 1.4 0 1 0 2.8 0a1.4 1.4 0 1 0 -2.8 0zM401 162.2a1.4 1.4 0 1 0 2.8 0a1.4 1.4 0 1 0 -2.8 0zM405.9 156.5a1.4 1.4 0 1 0 2.8 0a1.4 1.4 0 1 0 -2.8 0zM401.7 162.5a1.4 1.4 0 1 0 2.8 0a1.4 1.4 0 1 0 -2.8 0zM402.5 162.3a1.4 1.4 0 1 0 2.8 0a1.4 1.4 0 1 0 -2.8 0zM409.2 164.5a1.4 1.4 0 1 0 2.8 0a1.4 1.4 0 1 0 -2.8 0zM410.2 163.9a1.4 1.4 0 1 0 2.8 0a1.4 1.4 0 1 0 -2.8 0zM403.5 161.9a1.4 1.4 0 1 0 2.8 0a1.4 1.4 0 1 0 -2.8 0zM403.6 161a1.4 1.4 0 1 0 2.8 0a1.4 1.4 0 1 0 -2.8 0zM404.1 156.5a1.4 1.4 0 1 0 2.8 0a1.4 1.4 0 1 0 -2.8 0zM403.2 161.9a1.4 1.4 0 1 0 2.8 0a1.4 1.4 0 1 0 -2.8 0zM399.6 161.9a1.4 1.4 0 1 0 2.8 0a1.4 1.4 0 1 0 -2.8 0zM408 161.5a1.4 1.4 0 1 0 2.8 0a1.4 1.4 0 1 0 -2.8 0zM416.7 153.7a1.4 1.4 0 1 0 2.8 0a1.4 1.4 0 1 0 -2.8 0zM403.9 156.2a1.4 1.4 0 1 0 2.8 0a1.4 1.4 0 1 0 -2.8 0zM410.6 170.5a1.4 1.4 0 1 0 2.8 0a1.4 1.4 0 1 0 -2.8 0zM408 161a1.4 1.4 0 1 0 2.8 0a1.4 1.4 0 1 0 -2.8 0zM408.2 154.8a1.4 1.4 0 1 0 2.8 0a1.4 1.4 0 1 0 -2.8 0zM409.9 163.2a1.4 1.4 0 1 0 2.8 0a1.4 1.4 0 1 0 -2.8 0zM405.2 160.1a1.4 1.4 0 1 0 2.8 0a1.4 1.4 0 1 0 -2.8 0zM408.7 160.4a1.4 1.4 0 1 0 2.8 0a1.4 1.4 0 1 0 -2.8 0zM406.3 160.4a1.4 1.4 0 1 0 2.8 0a1.4 1.4 0 1 0 -2.8 0zM392.5 161.9a1.4 1.4 0 1 0 2.8 0a1.4 1.4 0 1 0 -2.8 0zM406.2 164.4a1.4 1.4 0 1 0 2.8 0a1.4 1.4 0 1 0 -2.8 0zM400.2 161.9a1.4 1.4 0 1 0 2.8 0a1.4 1.4 0 1 0 -2.8 0zM408.6 162.5a1.4 1.4 0 1 0 2.8 0a1.4 1.4 0 1 0 -2.8 0zM412.1 168.4a1.4 1.4 0 1 0 2.8 0a1.4 1.4 0 1 0 -2.8 0zM400 155.9a1.4 1.4 0 1 0 2.8 0a1.4 1.4 0 1 0 -2.8 0zM409.9 166.9a1.4 1.4 0 1 0 2.8 0a1.4 1.4 0 1 0 -2.8 0zM410.3 164.6a1.4 1.4 0 1 0 2.8 0a1.4 1.4 0 1 0 -2.8 0zM401.6 159.7a1.4 1.4 0 1 0 2.8 0a1.4 1.4 0 1 0 -2.8 0zM410.1 159.1a1.4 1.4 0 1 0 2.8 0a1.4 1.4 0 1 0 -2.8 0zM394.9 158.8a1.4 1.4 0 1 0 2.8 0a1.4 1.4 0 1 0 -2.8 0zM401.3 159.7a1.4 1.4 0 1 0 2.8 0a1.4 1.4 0 1 0 -2.8 0zM406.4 159.6a1.4 1.4 0 1 0 2.8 0a1.4 1.4 0 1 0 -2.8 0zM412.4 161.7a1.4 1.4 0 1 0 2.8 0a1.4 1.4 0 1 0 -2.8 0zM399 166.2a1.4 1.4 0 1 0 2.8 0a1.4 1.4 0 1 0 -2.8 0zM401.8 162.7a1.4 1.4 0 1 0 2.8 0a1.4 1.4 0 1 0 -2.8 0zM405 161a1.4 1.4 0 1 0 2.8 0a1.4 1.4 0 1 0 -2.8 0zM406.9 159.8a1.4 1.4 0 1 0 2.8 0a1.4 1.4 0 1 0 -2.8 0zM394.8 154.9a1.4 1.4 0 1 0 2.8 0a1.4 1.4 0 1 0 -2.8 0zM398 159.6a1.4 1.4 0 1 0 2.8 0a1.4 1.4 0 1 0 -2.8 0zM405 162.2a1.4 1.4 0 1 0 2.8 0a1.4 1.4 0 1 0 -2.8 0zM408.2 162.4a1.4 1.4 0 1 0 2.8 0a1.4 1.4 0 1 0 -2.8 0zM400.7 159.7a1.4 1.4 0 1 0 2.8 0a1.4 1.4 0 1 0 -2.8 0zM393.2 161.5a1.4 1.4 0 1 0 2.8 0a1.4 1.4 0 1 0 -2.8 0zM407.8 163.7a1.4 1.4 0 1 0 2.8 0a1.4 1.4 0 1 0 -2.8 0zM404.4 161.4a1.4 1.4 0 1 0 2.8 0a1.4 1.4 0 1 0 -2.8 0zM410.3 162a1.4 1.4 0 1 0 2.8 0a1.4 1.4 0 1 0 -2.8 0zM409.2 163.9a1.4 1.4 0 1 0 2.8 0a1.4 1.4 0 1 0 -2.8 0zM406.3 166.2a1.4 1.4 0 1 0 2.8 0a1.4 1.4 0 1 0 -2.8 0zM401.9 160.9a1.4 1.4 0 1 0 2.8 0a1.4 1.4 0 1 0 -2.8 0zM400.6 159.4a1.4 1.4 0 1 0 2.8 0a1.4 1.4 0 1 0 -2.8 0zM413.8 167.6a1.4 1.4 0 1 0 2.8 0a1.4 1.4 0 1 0 -2.8 0zM405.2 163.8a1.4 1.4 0 1 0 2.8 0a1.4 1.4 0 1 0 -2.8 0zM411.7 164.6a1.4 1.4 0 1 0 2.8 0a1.4 1.4 0 1 0 -2.8 0zM411.8 158a1.4 1.4 0 1 0 2.8 0a1.4 1.4 0 1 0 -2.8 0zM401.5 163.4a1.4 1.4 0 1 0 2.8 0a1.4 1.4 0 1 0 -2.8 0zM413.1 162.3a1.4 1.4 0 1 0 2.8 0a1.4 1.4 0 1 0 -2.8 0zM400.3 160.9a1.4 1.4 0 1 0 2.8 0a1.4 1.4 0 1 0 -2.8 0zM401.4 159.3a1.4 1.4 0 1 0 2.8 0a1.4 1.4 0 1 0 -2.8 0zM413.5 160a1.4 1.4 0 1 0 2.8 0a1.4 1.4 0 1 0 -2.8 0zM405.2 168.9a1.4 1.4 0 1 0 2.8 0a1.4 1.4 0 1 0 -2.8 0zM411.7 163.1a1.4 1.4 0 1 0 2.8 0a1.4 1.4 0 1 0 -2.8 0zM401.7 163.3a1.4 1.4 0 1 0 2.8 0a1.4 1.4 0 1 0 -2.8 0zM414.2 164a1.4 1.4 0 1 0 2.8 0a1.4 1.4 0 1 0 -2.8 0zM412.2 162.3a1.4 1.4 0 1 0 2.8 0a1.4 1.4 0 1 0 -2.8 0zM408 161.4a1.4 1.4 0 1 0 2.8 0a1.4 1.4 0 1 0 -2.8 0zM407.5 166.2a1.4 1.4 0 1 0 2.8 0a1.4 1.4 0 1 0 -2.8 0zM397.1 161.8a1.4 1.4 0 1 0 2.8 0a1.4 1.4 0 1 0 -2.8 0zM406.4 160.2a1.4 1.4 0 1 0 2.8 0a1.4 1.4 0 1 0 -2.8 0zM403.4 164.5a1.4 1.4 0 1 0 2.8 0a1.4 1.4 0 1 0 -2.8 0zM416.3 164a1.4 1.4 0 1 0 2.8 0a1.4 1.4 0 1 0 -2.8 0zM406.9 157a1.4 1.4 0 1 0 2.8 0a1.4 1.4 0 1 0 -2.8 0zM415.9 162.2a1.4 1.4 0 1 0 2.8 0a1.4 1.4 0 1 0 -2.8 0zM404.9 158.4a1.4 1.4 0 1 0 2.8 0a1.4 1.4 0 1 0 -2.8 0zM404.8 158.5a1.4 1.4 0 1 0 2.8 0a1.4 1.4 0 1 0 -2.8 0zM405.5 163.5a1.4 1.4 0 1 0 2.8 0a1.4 1.4 0 1 0 -2.8 0zM405.3 162.9a1.4 1.4 0 1 0 2.8 0a1.4 1.4 0 1 0 -2.8 0zM400.3 166.6a1.4 1.4 0 1 0 2.8 0a1.4 1.4 0 1 0 -2.8 0zM401.4 156.2a1.4 1.4 0 1 0 2.8 0a1.4 1.4 0 1 0 -2.8 0zM404 159.6a1.4 1.4 0 1 0 2.8 0a1.4 1.4 0 1 0 -2.8 0zM399.4 160.9a1.4 1.4 0 1 0 2.8 0a1.4 1.4 0 1 0 -2.8 0zM406.7 158.2a1.4 1.4 0 1 0 2.8 0a1.4 1.4 0 1 0 -2.8 0zM404.3 166.6a1.4 1.4 0 1 0 2.8 0a1.4 1.4 0 1 0 -2.8 0zM408.9 161.5a1.4 1.4 0 1 0 2.8 0a1.4 1.4 0 1 0 -2.8 0zM405.8 161.6a1.4 1.4 0 1 0 2.8 0a1.4 1.4 0 1 0 -2.8 0zM404.8 164.3a1.4 1.4 0 1 0 2.8 0a1.4 1.4 0 1 0 -2.8 0zM404.6 154.3a1.4 1.4 0 1 0 2.8 0a1.4 1.4 0 1 0 -2.8 0zM405 159.2a1.4 1.4 0 1 0 2.8 0a1.4 1.4 0 1 0 -2.8 0zM408.7 160a1.4 1.4 0 1 0 2.8 0a1.4 1.4 0 1 0 -2.8 0zM405.9 169a1.4 1.4 0 1 0 2.8 0a1.4 1.4 0 1 0 -2.8 0zM399.2 158.4a1.4 1.4 0 1 0 2.8 0a1.4 1.4 0 1 0 -2.8 0zM397.2 154.3a1.4 1.4 0 1 0 2.8 0a1.4 1.4 0 1 0 -2.8 0zM394.6 163.2a1.4 1.4 0 1 0 2.8 0a1.4 1.4 0 1 0 -2.8 0zM401.5 156a1.4 1.4 0 1 0 2.8 0a1.4 1.4 0 1 0 -2.8 0zM396.8 164a1.4 1.4 0 1 0 2.8 0a1.4 1.4 0 1 0 -2.8 0zM400.8 160.8a1.4 1.4 0 1 0 2.8 0a1.4 1.4 0 1 0 -2.8 0zM407 166.3a1.4 1.4 0 1 0 2.8 0a1.4 1.4 0 1 0 -2.8 0zM416 165.3a1.4 1.4 0 1 0 2.8 0a1.4 1.4 0 1 0 -2.8 0zM405.9 162.6a1.4 1.4 0 1 0 2.8 0a1.4 1.4 0 1 0 -2.8 0zM415.2 166.6a1.4 1.4 0 1 0 2.8 0a1.4 1.4 0 1 0 -2.8 0zM403.4 163.5a1.4 1.4 0 1 0 2.8 0a1.4 1.4 0 1 0 -2.8 0zM406.7 162.2a1.4 1.4 0 1 0 2.8 0a1.4 1.4 0 1 0 -2.8 0zM402.3 157.8a1.4 1.4 0 1 0 2.8 0a1.4 1.4 0 1 0 -2.8 0zM402.1 157.1a1.4 1.4 0 1 0 2.8 0a1.4 1.4 0 1 0 -2.8 0zM412 163.7a1.4 1.4 0 1 0 2.8 0a1.4 1.4 0 1 0 -2.8 0zM398.3 166.5a1.4 1.4 0 1 0 2.8 0a1.4 1.4 0 1 0 -2.8 0zM410.1 155.9a1.4 1.4 0 1 0 2.8 0a1.4 1.4 0 1 0 -2.8 0zM415.4 164.6a1.4 1.4 0 1 0 2.8 0a1.4 1.4 0 1 0 -2.8 0zM416.7 158.1a1.4 1.4 0 1 0 2.8 0a1.4 1.4 0 1 0 -2.8 0zM408.1 163.4a1.4 1.4 0 1 0 2.8 0a1.4 1.4 0 1 0 -2.8 0zM406.2 162.5a1.4 1.4 0 1 0 2.8 0a1.4 1.4 0 1 0 -2.8 0zM411 157.2a1.4 1.4 0 1 0 2.8 0a1.4 1.4 0 1 0 -2.8 0zM398.1 157.5a1.4 1.4 0 1 0 2.8 0a1.4 1.4 0 1 0 -2.8 0zM402 160.1a1.4 1.4 0 1 0 2.8 0a1.4 1.4 0 1 0 -2.8 0zM407.2 162.9a1.4 1.4 0 1 0 2.8 0a1.4 1.4 0 1 0 -2.8 0zM405.3 159.8a1.4 1.4 0 1 0 2.8 0a1.4 1.4 0 1 0 -2.8 0zM402.6 165a1.4 1.4 0 1 0 2.8 0a1.4 1.4 0 1 0 -2.8 0zM409.4 162.3a1.4 1.4 0 1 0 2.8 0a1.4 1.4 0 1 0 -2.8 0zM403.3 167a1.4 1.4 0 1 0 2.8 0a1.4 1.4 0 1 0 -2.8 0zM401.8 164.1a1.4 1.4 0 1 0 2.8 0a1.4 1.4 0 1 0 -2.8 0zM411.6 161.2a1.4 1.4 0 1 0 2.8 0a1.4 1.4 0 1 0 -2.8 0zM409.7 158.4a1.4 1.4 0 1 0 2.8 0a1.4 1.4 0 1 0 -2.8 0zM410.8 162.6a1.4 1.4 0 1 0 2.8 0a1.4 1.4 0 1 0 -2.8 0zM396.2 164.1a1.4 1.4 0 1 0 2.8 0a1.4 1.4 0 1 0 -2.8 0zM400.1 166.1a1.4 1.4 0 1 0 2.8 0a1.4 1.4 0 1 0 -2.8 0zM401.3 161.5a1.4 1.4 0 1 0 2.8 0a1.4 1.4 0 1 0 -2.8 0zM406.7 160.9a1.4 1.4 0 1 0 2.8 0a1.4 1.4 0 1 0 -2.8 0zM406.6 160.2a1.4 1.4 0 1 0 2.8 0a1.4 1.4 0 1 0 -2.8 0zM408.9 162a1.4 1.4 0 1 0 2.8 0a1.4 1.4 0 1 0 -2.8 0zM406.3 153.2a1.4 1.4 0 1 0 2.8 0a1.4 1.4 0 1 0 -2.8 0zM411.6 162.1a1.4 1.4 0 1 0 2.8 0a1.4 1.4 0 1 0 -2.8 0zM395.1 162.3a1.4 1.4 0 1 0 2.8 0a1.4 1.4 0 1 0 -2.8 0zM407.7 165.4a1.4 1.4 0 1 0 2.8 0a1.4 1.4 0 1 0 -2.8 0zM399 167a1.4 1.4 0 1 0 2.8 0a1.4 1.4 0 1 0 -2.8 0zM404.2 169.7a1.4 1.4 0 1 0 2.8 0a1.4 1.4 0 1 0 -2.8 0zM404.3 164.2a1.4 1.4 0 1 0 2.8 0a1.4 1.4 0 1 0 -2.8 0zM403 158.4a1.4 1.4 0 1 0 2.8 0a1.4 1.4 0 1 0 -2.8 0zM411.2 164.9a1.4 1.4 0 1 0 2.8 0a1.4 1.4 0 1 0 -2.8 0zM413.7 164.7a1.4 1.4 0 1 0 2.8 0a1.4 1.4 0 1 0 -2.8 0zM401.9 156.7a1.4 1.4 0 1 0 2.8 0a1.4 1.4 0 1 0 -2.8 0zM401.5 159.8a1.4 1.4 0 1 0 2.8 0a1.4 1.4 0 1 0 -2.8 0zM400.5 163.9a1.4 1.4 0 1 0 2.8 0a1.4 1.4 0 1 0 -2.8 0zM406.9 161.1a1.4 1.4 0 1 0 2.8 0a1.4 1.4 0 1 0 -2.8 0zM406.1 161.5a1.4 1.4 0 1 0 2.8 0a1.4 1.4 0 1 0 -2.8 0zM406.3 164.4a1.4 1.4 0 1 0 2.8 0a1.4 1.4 0 1 0 -2.8 0zM403.1 154.2a1.4 1.4 0 1 0 2.8 0a1.4 1.4 0 1 0 -2.8 0zM399.2 156.7a1.4 1.4 0 1 0 2.8 0a1.4 1.4 0 1 0 -2.8 0zM401.8 156.3a1.4 1.4 0 1 0 2.8 0a1.4 1.4 0 1 0 -2.8 0zM399 154.6a1.4 1.4 0 1 0 2.8 0a1.4 1.4 0 1 0 -2.8 0zM401.6 153.3a1.4 1.4 0 1 0 2.8 0a1.4 1.4 0 1 0 -2.8 0zM400.8 155.9a1.4 1.4 0 1 0 2.8 0a1.4 1.4 0 1 0 -2.8 0zM403.3 156.9a1.4 1.4 0 1 0 2.8 0a1.4 1.4 0 1 0 -2.8 0zM400.2 153.3a1.4 1.4 0 1 0 2.8 0a1.4 1.4 0 1 0 -2.8 0zM402.4 156.1a1.4 1.4 0 1 0 2.8 0a1.4 1.4 0 1 0 -2.8 0zM401.9 153.4a1.4 1.4 0 1 0 2.8 0a1.4 1.4 0 1 0 -2.8 0zM402.9 156a1.4 1.4 0 1 0 2.8 0a1.4 1.4 0 1 0 -2.8 0zM402.5 154.4a1.4 1.4 0 1 0 2.8 0a1.4 1.4 0 1 0 -2.8 0zM430.4 159.5a1.4 1.4 0 1 0 2.8 0a1.4 1.4 0 1 0 -2.8 0zM426.6 162.7a1.4 1.4 0 1 0 2.8 0a1.4 1.4 0 1 0 -2.8 0zM425.1 165.8a1.4 1.4 0 1 0 2.8 0a1.4 1.4 0 1 0 -2.8 0zM422 164.6a1.4 1.4 0 1 0 2.8 0a1.4 1.4 0 1 0 -2.8 0zM419.1 160.3a1.4 1.4 0 1 0 2.8 0a1.4 1.4 0 1 0 -2.8 0zM415.4 168.4a1.4 1.4 0 1 0 2.8 0a1.4 1.4 0 1 0 -2.8 0zM414.7 172.4a1.4 1.4 0 1 0 2.8 0a1.4 1.4 0 1 0 -2.8 0zM412.5 170.5a1.4 1.4 0 1 0 2.8 0a1.4 1.4 0 1 0 -2.8 0zM411.8 174.9a1.4 1.4 0 1 0 2.8 0a1.4 1.4 0 1 0 -2.8 0zM416.9 156a1.4 1.4 0 1 0 2.8 0a1.4 1.4 0 1 0 -2.8 0zM412.5 153a1.4 1.4 0 1 0 2.8 0a1.4 1.4 0 1 0 -2.8 0zM117.2 536.1a1.4 1.4 0 1 0 2.8 0a1.4 1.4 0 1 0 -2.8 0zM114.3 540.7a1.4 1.4 0 1 0 2.8 0a1.4 1.4 0 1 0 -2.8 0zM124.8 547.7a1.4 1.4 0 1 0 2.8 0a1.4 1.4 0 1 0 -2.8 0zM104.3 557.1a1.4 1.4 0 1 0 2.8 0a1.4 1.4 0 1 0 -2.8 0zM98.5 560.6a1.4 1.4 0 1 0 2.8 0a1.4 1.4 0 1 0 -2.8 0zM164.2 552.4a1.4 1.4 0 1 0 2.8 0a1.4 1.4 0 1 0 -2.8 0zM167.7 553.6a1.4 1.4 0 1 0 2.8 0a1.4 1.4 0 1 0 -2.8 0zM175.1 543.7a1.4 1.4 0 1 0 2.8 0a1.4 1.4 0 1 0 -2.8 0zM164.6 561.2a1.4 1.4 0 1 0 2.8 0a1.4 1.4 0 1 0 -2.8 0zM167.7 561.2a1.4 1.4 0 1 0 2.8 0a1.4 1.4 0 1 0 -2.8 0zM145.8 564.1a1.4 1.4 0 1 0 2.8 0a1.4 1.4 0 1 0 -2.8 0zM154 571.7a1.4 1.4 0 1 0 2.8 0a1.4 1.4 0 1 0 -2.8 0zM146.3 573.4a1.4 1.4 0 1 0 2.8 0a1.4 1.4 0 1 0 -2.8 0zM129.2 573.4a1.4 1.4 0 1 0 2.8 0a1.4 1.4 0 1 0 -2.8 0zM158.9 575.7a1.4 1.4 0 1 0 2.8 0a1.4 1.4 0 1 0 -2.8 0zM163.3 574.3a1.4 1.4 0 1 0 2.8 0a1.4 1.4 0 1 0 -2.8 0zM153.7 577.5a1.4 1.4 0 1 0 2.8 0a1.4 1.4 0 1 0 -2.8 0zM151.6 578.7a1.4 1.4 0 1 0 2.8 0a1.4 1.4 0 1 0 -2.8 0zM92.7 577.5a1.4 1.4 0 1 0 2.8 0a1.4 1.4 0 1 0 -2.8 0zM107.8 577.5a1.4 1.4 0 1 0 2.8 0a1.4 1.4 0 1 0 -2.8 0zM124.8 579.6a1.4 1.4 0 1 0 2.8 0a1.4 1.4 0 1 0 -2.8 0zM117.8 581.7a1.4 1.4 0 1 0 2.8 0a1.4 1.4 0 1 0 -2.8 0zM138.8 581a1.4 1.4 0 1 0 2.8 0a1.4 1.4 0 1 0 -2.8 0zM147 585.7a1.4 1.4 0 1 0 2.8 0a1.4 1.4 0 1 0 -2.8 0zM189.1 576.9a1.4 1.4 0 1 0 2.8 0a1.4 1.4 0 1 0 -2.8 0zM185.6 579.9a1.4 1.4 0 1 0 2.8 0a1.4 1.4 0 1 0 -2.8 0zM190.8 581.7a1.4 1.4 0 1 0 2.8 0a1.4 1.4 0 1 0 -2.8 0zM193.1 582.2a1.4 1.4 0 1 0 2.8 0a1.4 1.4 0 1 0 -2.8 0zM88.5 591a1.4 1.4 0 1 0 2.8 0a1.4 1.4 0 1 0 -2.8 0zM113.4 589.7a1.4 1.4 0 1 0 2.8 0a1.4 1.4 0 1 0 -2.8 0zM108.1 593.6a1.4 1.4 0 1 0 2.8 0a1.4 1.4 0 1 0 -2.8 0zM160.7 589.7a1.4 1.4 0 1 0 2.8 0a1.4 1.4 0 1 0 -2.8 0zM165.6 589.7a1.4 1.4 0 1 0 2.8 0a1.4 1.4 0 1 0 -2.8 0zM187.3 591a1.4 1.4 0 1 0 2.8 0a1.4 1.4 0 1 0 -2.8 0zM81.5 595.7a1.4 1.4 0 1 0 2.8 0a1.4 1.4 0 1 0 -2.8 0zM136.5 595a1.4 1.4 0 1 0 2.8 0a1.4 1.4 0 1 0 -2.8 0zM142.8 595.7a1.4 1.4 0 1 0 2.8 0a1.4 1.4 0 1 0 -2.8 0zM144.9 593.2a1.4 1.4 0 1 0 2.8 0a1.4 1.4 0 1 0 -2.8 0zM149.8 593.9a1.4 1.4 0 1 0 2.8 0a1.4 1.4 0 1 0 -2.8 0zM153.3 595.7a1.4 1.4 0 1 0 2.8 0a1.4 1.4 0 1 0 -2.8 0zM155.4 597.1a1.4 1.4 0 1 0 2.8 0a1.4 1.4 0 1 0 -2.8 0zM158.1 598a1.4 1.4 0 1 0 2.8 0a1.4 1.4 0 1 0 -2.8 0zM160.3 596.2a1.4 1.4 0 1 0 2.8 0a1.4 1.4 0 1 0 -2.8 0zM173.8 597.1a1.4 1.4 0 1 0 2.8 0a1.4 1.4 0 1 0 -2.8 0zM127.1 598.8a1.4 1.4 0 1 0 2.8 0a1.4 1.4 0 1 0 -2.8 0zM152.3 598.8a1.4 1.4 0 1 0 2.8 0a1.4 1.4 0 1 0 -2.8 0zM218.8 529.6a1.4 1.4 0 1 0 2.8 0a1.4 1.4 0 1 0 -2.8 0zM217.5 552.4a1.4 1.4 0 1 0 2.8 0a1.4 1.4 0 1 0 -2.8 0zM212.3 576.1a1.4 1.4 0 1 0 2.8 0a1.4 1.4 0 1 0 -2.8 0zM193 582.2a1.4 1.4 0 1 0 2.8 0a1.4 1.4 0 1 0 -2.8 0zM288 570.5a1.4 1.4 0 1 0 2.8 0a1.4 1.4 0 1 0 -2.8 0zM223.1 593.2a1.4 1.4 0 1 0 2.8 0a1.4 1.4 0 1 0 -2.8 0zM252 591.5a1.4 1.4 0 1 0 2.8 0a1.4 1.4 0 1 0 -2.8 0zM265.5 592.2a1.4 1.4 0 1 0 2.8 0a1.4 1.4 0 1 0 -2.8 0zM266.6 597.1a1.4 1.4 0 1 0 2.8 0a1.4 1.4 0 1 0 -2.8 0zM200.7 597.1a1.4 1.4 0 1 0 2.8 0a1.4 1.4 0 1 0 -2.8 0zM201.8 598.5a1.4 1.4 0 1 0 2.8 0a1.4 1.4 0 1 0 -2.8 0zM198.3 599.2a1.4 1.4 0 1 0 2.8 0a1.4 1.4 0 1 0 -2.8 0zM126.5 599.4a1.4 1.4 0 1 0 2.8 0a1.4 1.4 0 1 0 -2.8 0zM127.8 601.1a1.4 1.4 0 1 0 2.8 0a1.4 1.4 0 1 0 -2.8 0zM103.2 607.6a1.4 1.4 0 1 0 2.8 0a1.4 1.4 0 1 0 -2.8 0zM120.4 604.6a1.4 1.4 0 1 0 2.8 0a1.4 1.4 0 1 0 -2.8 0zM147 602.4a1.4 1.4 0 1 0 2.8 0a1.4 1.4 0 1 0 -2.8 0zM154.6 603.8a1.4 1.4 0 1 0 2.8 0a1.4 1.4 0 1 0 -2.8 0zM156.3 608.1a1.4 1.4 0 1 0 2.8 0a1.4 1.4 0 1 0 -2.8 0zM173.8 602.9a1.4 1.4 0 1 0 2.8 0a1.4 1.4 0 1 0 -2.8 0zM173.8 606.4a1.4 1.4 0 1 0 2.8 0a1.4 1.4 0 1 0 -2.8 0zM177.9 605.9a1.4 1.4 0 1 0 2.8 0a1.4 1.4 0 1 0 -2.8 0zM172.6 597.1a1.4 1.4 0 1 0 2.8 0a1.4 1.4 0 1 0 -2.8 0zM133.5 608.1a1.4 1.4 0 1 0 2.8 0a1.4 1.4 0 1 0 -2.8 0zM135.3 609a1.4 1.4 0 1 0 2.8 0a1.4 1.4 0 1 0 -2.8 0zM141.8 608.7a1.4 1.4 0 1 0 2.8 0a1.4 1.4 0 1 0 -2.8 0zM142.8 607.3a1.4 1.4 0 1 0 2.8 0a1.4 1.4 0 1 0 -2.8 0zM145.3 611.1a1.4 1.4 0 1 0 2.8 0a1.4 1.4 0 1 0 -2.8 0zM148.8 612.2a1.4 1.4 0 1 0 2.8 0a1.4 1.4 0 1 0 -2.8 0zM148.8 614.6a1.4 1.4 0 1 0 2.8 0a1.4 1.4 0 1 0 -2.8 0zM152.8 613.9a1.4 1.4 0 1 0 2.8 0a1.4 1.4 0 1 0 -2.8 0zM162.1 614.6a1.4 1.4 0 1 0 2.8 0a1.4 1.4 0 1 0 -2.8 0zM168.6 610.4a1.4 1.4 0 1 0 2.8 0a1.4 1.4 0 1 0 -2.8 0zM82.7 610.4a1.4 1.4 0 1 0 2.8 0a1.4 1.4 0 1 0 -2.8 0zM84 613.9a1.4 1.4 0 1 0 2.8 0a1.4 1.4 0 1 0 -2.8 0zM114.3 615.7a1.4 1.4 0 1 0 2.8 0a1.4 1.4 0 1 0 -2.8 0zM125.3 616a1.4 1.4 0 1 0 2.8 0a1.4 1.4 0 1 0 -2.8 0zM128.8 615.7a1.4 1.4 0 1 0 2.8 0a1.4 1.4 0 1 0 -2.8 0zM130.6 616.9a1.4 1.4 0 1 0 2.8 0a1.4 1.4 0 1 0 -2.8 0zM133 617.4a1.4 1.4 0 1 0 2.8 0a1.4 1.4 0 1 0 -2.8 0zM136.5 614.3a1.4 1.4 0 1 0 2.8 0a1.4 1.4 0 1 0 -2.8 0zM138.3 615.7a1.4 1.4 0 1 0 2.8 0a1.4 1.4 0 1 0 -2.8 0zM138.8 616.9a1.4 1.4 0 1 0 2.8 0a1.4 1.4 0 1 0 -2.8 0zM144.6 618.1a1.4 1.4 0 1 0 2.8 0a1.4 1.4 0 1 0 -2.8 0zM175.6 618.1a1.4 1.4 0 1 0 2.8 0a1.4 1.4 0 1 0 -2.8 0zM182.6 617.8a1.4 1.4 0 1 0 2.8 0a1.4 1.4 0 1 0 -2.8 0zM194.3 615.7a1.4 1.4 0 1 0 2.8 0a1.4 1.4 0 1 0 -2.8 0zM108.5 623a1.4 1.4 0 1 0 2.8 0a1.4 1.4 0 1 0 -2.8 0zM124.8 623.4a1.4 1.4 0 1 0 2.8 0a1.4 1.4 0 1 0 -2.8 0zM132.3 624.4a1.4 1.4 0 1 0 2.8 0a1.4 1.4 0 1 0 -2.8 0zM121.8 626.2a1.4 1.4 0 1 0 2.8 0a1.4 1.4 0 1 0 -2.8 0zM119 627.9a1.4 1.4 0 1 0 2.8 0a1.4 1.4 0 1 0 -2.8 0zM128.3 627.9a1.4 1.4 0 1 0 2.8 0a1.4 1.4 0 1 0 -2.8 0zM125.3 629.7a1.4 1.4 0 1 0 2.8 0a1.4 1.4 0 1 0 -2.8 0zM129.2 631.4a1.4 1.4 0 1 0 2.8 0a1.4 1.4 0 1 0 -2.8 0zM132.3 631.8a1.4 1.4 0 1 0 2.8 0a1.4 1.4 0 1 0 -2.8 0zM133 632.7a1.4 1.4 0 1 0 2.8 0a1.4 1.4 0 1 0 -2.8 0zM141.8 627.4a1.4 1.4 0 1 0 2.8 0a1.4 1.4 0 1 0 -2.8 0zM149.8 626.2a1.4 1.4 0 1 0 2.8 0a1.4 1.4 0 1 0 -2.8 0zM151.1 627.4a1.4 1.4 0 1 0 2.8 0a1.4 1.4 0 1 0 -2.8 0zM147.6 632.1a1.4 1.4 0 1 0 2.8 0a1.4 1.4 0 1 0 -2.8 0zM155.1 632.1a1.4 1.4 0 1 0 2.8 0a1.4 1.4 0 1 0 -2.8 0zM118.3 635.3a1.4 1.4 0 1 0 2.8 0a1.4 1.4 0 1 0 -2.8 0zM117.8 636.7a1.4 1.4 0 1 0 2.8 0a1.4 1.4 0 1 0 -2.8 0zM122.5 635a1.4 1.4 0 1 0 2.8 0a1.4 1.4 0 1 0 -2.8 0zM123.9 637.4a1.4 1.4 0 1 0 2.8 0a1.4 1.4 0 1 0 -2.8 0zM126.5 638.4a1.4 1.4 0 1 0 2.8 0a1.4 1.4 0 1 0 -2.8 0zM193.1 630.9a1.4 1.4 0 1 0 2.8 0a1.4 1.4 0 1 0 -2.8 0zM194 632.7a1.4 1.4 0 1 0 2.8 0a1.4 1.4 0 1 0 -2.8 0zM183.1 637a1.4 1.4 0 1 0 2.8 0a1.4 1.4 0 1 0 -2.8 0zM180.8 639.7a1.4 1.4 0 1 0 2.8 0a1.4 1.4 0 1 0 -2.8 0zM190.1 640.2a1.4 1.4 0 1 0 2.8 0a1.4 1.4 0 1 0 -2.8 0zM194.3 642a1.4 1.4 0 1 0 2.8 0a1.4 1.4 0 1 0 -2.8 0zM195.7 644.1a1.4 1.4 0 1 0 2.8 0a1.4 1.4 0 1 0 -2.8 0zM90.3 644.9a1.4 1.4 0 1 0 2.8 0a1.4 1.4 0 1 0 -2.8 0zM129.2 644.9a1.4 1.4 0 1 0 2.8 0a1.4 1.4 0 1 0 -2.8 0zM177.3 649.7a1.4 1.4 0 1 0 2.8 0a1.4 1.4 0 1 0 -2.8 0zM184.9 650.7a1.4 1.4 0 1 0 2.8 0a1.4 1.4 0 1 0 -2.8 0zM185.6 654.2a1.4 1.4 0 1 0 2.8 0a1.4 1.4 0 1 0 -2.8 0zM170.9 654.2a1.4 1.4 0 1 0 2.8 0a1.4 1.4 0 1 0 -2.8 0zM177.9 657.2a1.4 1.4 0 1 0 2.8 0a1.4 1.4 0 1 0 -2.8 0zM193.6 654.6a1.4 1.4 0 1 0 2.8 0a1.4 1.4 0 1 0 -2.8 0zM193.6 658.9a1.4 1.4 0 1 0 2.8 0a1.4 1.4 0 1 0 -2.8 0zM193.6 662.4a1.4 1.4 0 1 0 2.8 0a1.4 1.4 0 1 0 -2.8 0zM112.5 655.4a1.4 1.4 0 1 0 2.8 0a1.4 1.4 0 1 0 -2.8 0zM157.5 660.7a1.4 1.4 0 1 0 2.8 0a1.4 1.4 0 1 0 -2.8 0zM163.3 674.2a1.4 1.4 0 1 0 2.8 0a1.4 1.4 0 1 0 -2.8 0zM197.7 598.2a1.4 1.4 0 1 0 2.8 0a1.4 1.4 0 1 0 -2.8 0zM201.2 597.6a1.4 1.4 0 1 0 2.8 0a1.4 1.4 0 1 0 -2.8 0zM266.6 597.6a1.4 1.4 0 1 0 2.8 0a1.4 1.4 0 1 0 -2.8 0zM252 603.4a1.4 1.4 0 1 0 2.8 0a1.4 1.4 0 1 0 -2.8 0zM252.9 604.6a1.4 1.4 0 1 0 2.8 0a1.4 1.4 0 1 0 -2.8 0zM213.5 608.1a1.4 1.4 0 1 0 2.8 0a1.4 1.4 0 1 0 -2.8 0zM224.5 611.6a1.4 1.4 0 1 0 2.8 0a1.4 1.4 0 1 0 -2.8 0zM234.5 612.2a1.4 1.4 0 1 0 2.8 0a1.4 1.4 0 1 0 -2.8 0zM194.8 615.7a1.4 1.4 0 1 0 2.8 0a1.4 1.4 0 1 0 -2.8 0zM214.4 615.7a1.4 1.4 0 1 0 2.8 0a1.4 1.4 0 1 0 -2.8 0zM219.3 614.6a1.4 1.4 0 1 0 2.8 0a1.4 1.4 0 1 0 -2.8 0zM196 620.4a1.4 1.4 0 1 0 2.8 0a1.4 1.4 0 1 0 -2.8 0zM198.3 619.2a1.4 1.4 0 1 0 2.8 0a1.4 1.4 0 1 0 -2.8 0zM203.9 618.1a1.4 1.4 0 1 0 2.8 0a1.4 1.4 0 1 0 -2.8 0zM210.5 617.8a1.4 1.4 0 1 0 2.8 0a1.4 1.4 0 1 0 -2.8 0zM211.2 621.6a1.4 1.4 0 1 0 2.8 0a1.4 1.4 0 1 0 -2.8 0zM231.9 618.1a1.4 1.4 0 1 0 2.8 0a1.4 1.4 0 1 0 -2.8 0zM247.3 616.9a1.4 1.4 0 1 0 2.8 0a1.4 1.4 0 1 0 -2.8 0zM257.8 616.4a1.4 1.4 0 1 0 2.8 0a1.4 1.4 0 1 0 -2.8 0zM204.2 623.9a1.4 1.4 0 1 0 2.8 0a1.4 1.4 0 1 0 -2.8 0zM217 623.4a1.4 1.4 0 1 0 2.8 0a1.4 1.4 0 1 0 -2.8 0zM238 623.4a1.4 1.4 0 1 0 2.8 0a1.4 1.4 0 1 0 -2.8 0zM208.2 627.9a1.4 1.4 0 1 0 2.8 0a1.4 1.4 0 1 0 -2.8 0zM251.2 627.4a1.4 1.4 0 1 0 2.8 0a1.4 1.4 0 1 0 -2.8 0zM194.2 629.7a1.4 1.4 0 1 0 2.8 0a1.4 1.4 0 1 0 -2.8 0zM193.4 631.8a1.4 1.4 0 1 0 2.8 0a1.4 1.4 0 1 0 -2.8 0zM199 630.9a1.4 1.4 0 1 0 2.8 0a1.4 1.4 0 1 0 -2.8 0zM199.5 631.8a1.4 1.4 0 1 0 2.8 0a1.4 1.4 0 1 0 -2.8 0zM217.5 630a1.4 1.4 0 1 0 2.8 0a1.4 1.4 0 1 0 -2.8 0zM250.3 630.9a1.4 1.4 0 1 0 2.8 0a1.4 1.4 0 1 0 -2.8 0zM253.3 632.1a1.4 1.4 0 1 0 2.8 0a1.4 1.4 0 1 0 -2.8 0zM210.9 635.3a1.4 1.4 0 1 0 2.8 0a1.4 1.4 0 1 0 -2.8 0zM240.3 635a1.4 1.4 0 1 0 2.8 0a1.4 1.4 0 1 0 -2.8 0zM244.2 636.7a1.4 1.4 0 1 0 2.8 0a1.4 1.4 0 1 0 -2.8 0zM255 635a1.4 1.4 0 1 0 2.8 0a1.4 1.4 0 1 0 -2.8 0zM259 635.3a1.4 1.4 0 1 0 2.8 0a1.4 1.4 0 1 0 -2.8 0zM200.4 638.8a1.4 1.4 0 1 0 2.8 0a1.4 1.4 0 1 0 -2.8 0zM236.3 638.8a1.4 1.4 0 1 0 2.8 0a1.4 1.4 0 1 0 -2.8 0zM194.2 640.6a1.4 1.4 0 1 0 2.8 0a1.4 1.4 0 1 0 -2.8 0zM217.9 640.2a1.4 1.4 0 1 0 2.8 0a1.4 1.4 0 1 0 -2.8 0zM204.7 643.2a1.4 1.4 0 1 0 2.8 0a1.4 1.4 0 1 0 -2.8 0zM255.5 640.9a1.4 1.4 0 1 0 2.8 0a1.4 1.4 0 1 0 -2.8 0zM255 642.7a1.4 1.4 0 1 0 2.8 0a1.4 1.4 0 1 0 -2.8 0zM253.8 644.4a1.4 1.4 0 1 0 2.8 0a1.4 1.4 0 1 0 -2.8 0zM194.8 644.1a1.4 1.4 0 1 0 2.8 0a1.4 1.4 0 1 0 -2.8 0zM195.5 646.2a1.4 1.4 0 1 0 2.8 0a1.4 1.4 0 1 0 -2.8 0zM218.8 646.7a1.4 1.4 0 1 0 2.8 0a1.4 1.4 0 1 0 -2.8 0zM222.3 648.4a1.4 1.4 0 1 0 2.8 0a1.4 1.4 0 1 0 -2.8 0zM220.5 650.7a1.4 1.4 0 1 0 2.8 0a1.4 1.4 0 1 0 -2.8 0zM247.7 646.2a1.4 1.4 0 1 0 2.8 0a1.4 1.4 0 1 0 -2.8 0zM249.8 649a1.4 1.4 0 1 0 2.8 0a1.4 1.4 0 1 0 -2.8 0zM256.8 649.7a1.4 1.4 0 1 0 2.8 0a1.4 1.4 0 1 0 -2.8 0zM205.3 651.9a1.4 1.4 0 1 0 2.8 0a1.4 1.4 0 1 0 -2.8 0zM205.3 653.7a1.4 1.4 0 1 0 2.8 0a1.4 1.4 0 1 0 -2.8 0zM239.8 652.5a1.4 1.4 0 1 0 2.8 0a1.4 1.4 0 1 0 -2.8 0zM237.5 654.2a1.4 1.4 0 1 0 2.8 0a1.4 1.4 0 1 0 -2.8 0zM236.3 655.4a1.4 1.4 0 1 0 2.8 0a1.4 1.4 0 1 0 -2.8 0zM196 654.2a1.4 1.4 0 1 0 2.8 0a1.4 1.4 0 1 0 -2.8 0zM220 654.9a1.4 1.4 0 1 0 2.8 0a1.4 1.4 0 1 0 -2.8 0zM231.9 657.2a1.4 1.4 0 1 0 2.8 0a1.4 1.4 0 1 0 -2.8 0zM230.5 658.4a1.4 1.4 0 1 0 2.8 0a1.4 1.4 0 1 0 -2.8 0zM194.2 658.4a1.4 1.4 0 1 0 2.8 0a1.4 1.4 0 1 0 -2.8 0zM193.7 661.9a1.4 1.4 0 1 0 2.8 0a1.4 1.4 0 1 0 -2.8 0zM220.5 660.7a1.4 1.4 0 1 0 2.8 0a1.4 1.4 0 1 0 -2.8 0zM226.6 661.6a1.4 1.4 0 1 0 2.8 0a1.4 1.4 0 1 0 -2.8 0zM233.6 663a1.4 1.4 0 1 0 2.8 0a1.4 1.4 0 1 0 -2.8 0zM232.2 664.2a1.4 1.4 0 1 0 2.8 0a1.4 1.4 0 1 0 -2.8 0zM212.3 668.9a1.4 1.4 0 1 0 2.8 0a1.4 1.4 0 1 0 -2.8 0zM229.3 668.9a1.4 1.4 0 1 0 2.8 0a1.4 1.4 0 1 0 -2.8 0z" fill="#2626d6"/>
<path d="M495.9 596.6a1.7 1.7 0 1 0 3.4 0a1.7 1.7 0 1 0 -3.4 0zM495.9 813.9a1.7 1.7 0 1 0 3.4 0a1.7 1.7 0 1 0 -3.4 0z" fill="#a81c2a"/>
<path d="M77.6 66H314.7V253.2H77.6ZM101.31 66v3M101.31 253.2v-3M125.02 66v3M125.02 253.2v-3M148.73 66v3M148.73 253.2v-3M172.44 66v3M172.44 253.2v-3M196.15 66v3M196.15 253.2v-3M219.86 66v3M219.86 253.2v-3M243.57 66v3M243.57 253.2v-3M267.28 66v3M267.28 253.2v-3M290.99 66v3M290.99 253.2v-3M77.6 97.2h3M314.7 97.2h-3M77.6 128.4h3M314.7 128.4h-3M77.6 159.6h3M314.7 159.6h-3M77.6 190.8h3M314.7 190.8h-3M77.6 222h3M314.7 222h-3M77.1 282.8H314V469.4H77.1ZM116.58 282.8v3M116.58 469.4v-3M156.07 282.8v3M156.07 469.4v-3M195.55 282.8v3M195.55 469.4v-3M235.03 282.8v3M235.03 469.4v-3M274.52 282.8v3M274.52 469.4v-3M77.1 309.46h3M314 309.46h-3M77.1 336.11h3M314 336.11h-3M77.1 362.77h3M314 362.77h-3M77.1 389.43h3M314 389.43h-3M77.1 416.09h3M314 416.09h-3M77.1 442.74h3M314 442.74h-3M76.8 499.5H313.4V686.3H76.8ZM116.23 499.5v3M116.23 686.3v-3M155.67 499.5v3M155.67 686.3v-3M195.1 499.5v3M195.1 686.3v-3M234.53 499.5v3M234.53 686.3v-3M273.97 499.5v3M273.97 686.3v-3M76.8 530.63h3M313.4 530.63h-3M76.8 561.77h3M313.4 561.77h-3M76.8 592.9h3M313.4 592.9h-3M76.8 624.03h3M313.4 624.03h-3M76.8 655.17h3M313.4 655.17h-3M75.4 718.4H312.7V905.1H75.4ZM109.3 718.4v3M109.3 905.1v-3M143.2 718.4v3M143.2 905.1v-3M177.1 718.4v3M177.1 905.1v-3M211 718.4v3M211 905.1v-3M244.9 718.4v3M244.9 905.1v-3M278.8 718.4v3M278.8 905.1v-3M75.4 739.14h3M312.7 739.14h-3M75.4 759.89h3M312.7 759.89h-3M75.4 780.63h3M312.7 780.63h-3M75.4 801.38h3M312.7 801.38h-3M75.4 822.12h3M312.7 822.12h-3M75.4 842.87h3M312.7 842.87h-3M75.4 863.61h3M312.7 863.61h-3M75.4 884.36h3M312.7 884.36h-3M378.6 68.4H615.5V255.3H378.6ZM408.21 68.4v3M408.21 255.3v-3M437.83 68.4v3M437.83 255.3v-3M467.44 68.4v3M467.44 255.3v-3M497.05 68.4v3M497.05 255.3v-3M526.66 68.4v3M526.66 255.3v-3M556.27 68.4v3M556.27 255.3v-3M585.89 68.4v3M585.89 255.3v-3M378.6 99.55h3M615.5 99.55h-3M378.6 130.7h3M615.5 130.7h-3M378.6 161.85h3M615.5 161.85h-3M378.6 193h3M615.5 193h-3M378.6 224.15h3M615.5 224.15h-3M378.3 285.4H615.5V472.3H378.3ZM404.66 285.4v3M404.66 472.3v-3M431.01 285.4v3M431.01 472.3v-3M457.37 285.4v3M457.37 472.3v-3M483.72 285.4v3M483.72 472.3v-3M510.08 285.4v3M510.08 472.3v-3M536.43 285.4v3M536.43 472.3v-3M562.79 285.4v3M562.79 472.3v-3M589.14 285.4v3M589.14 472.3v-3M378.3 316.55h3M615.5 316.55h-3M378.3 347.7h3M615.5 347.7h-3M378.3 378.85h3M615.5 378.85h-3M378.3 410h3M615.5 410h-3M378.3 441.15h3M615.5 441.15h-3M379.4 503.2H616.3V690.1H379.4ZM403.09 503.2v3M403.09 690.1v-3M426.78 503.2v3M426.78 690.1v-3M450.47 503.2v3M450.47 690.1v-3M474.16 503.2v3M474.16 690.1v-3M497.85 503.2v3M497.85 690.1v-3M521.54 503.2v3M521.54 690.1v-3M545.23 503.2v3M545.23 690.1v-3M568.92 503.2v3M568.92 690.1v-3M592.61 503.2v3M592.61 690.1v-3M379.4 521.89h3M616.3 521.89h-3M379.4 540.58h3M616.3 540.58h-3M379.4 559.27h3M616.3 559.27h-3M379.4 577.96h3M616.3 577.96h-3M379.4 596.65h3M616.3 596.65h-3M379.4 615.34h3M616.3 615.34h-3M379.4 634.03h3M616.3 634.03h-3M379.4 652.72h3M616.3 652.72h-3M379.4 671.41h3M616.3 671.41h-3M379.4 720.4H616.3V907.4H379.4ZM403.09 720.4v3M403.09 907.4v-3M426.78 720.4v3M426.78 907.4v-3M450.47 720.4v3M450.47 907.4v-3M474.16 720.4v3M474.16 907.4v-3M497.85 720.4v3M497.85 907.4v-3M521.54 720.4v3M521.54 907.4v-3M545.23 720.4v3M545.23 907.4v-3M568.92 720.4v3M568.92 907.4v-3M592.61 720.4v3M592.61 907.4v-3M379.4 739.1h3M616.3 739.1h-3M379.4 757.8h3M616.3 757.8h-3M379.4 776.5h3M616.3 776.5h-3M379.4 795.2h3M616.3 795.2h-3M379.4 813.9h3M616.3 813.9h-3M379.4 832.6h3M616.3 832.6h-3M379.4 851.3h3M616.3 851.3h-3M379.4 870h3M616.3 870h-3M379.4 888.7h3M616.3 888.7h-3" fill="none" stroke="#7d7d7d" stroke-width="1.1"/>
<path d="M196 285.2H311.5" stroke="#b0b0b0" stroke-width="1"/>
<text x="60.19" y="73" font-size="16" font-weight="bold" fill="#000">4</text>
<text x="60.56" y="134.4" font-size="16" font-weight="bold" fill="#000">0</text>
<text x="54.97" y="256.5" font-size="16" font-weight="bold" fill="#000">-</text>
<text x="60.29" y="256.5" font-size="16" font-weight="bold" fill="#000">8</text>
<text x="66.67" y="270" font-size="16" font-weight="bold" fill="#000">-</text>
<text x="72" y="270" font-size="16" font-weight="bold" fill="#000">4</text>
<text x="168.47" y="270" font-size="16" font-weight="bold" fill="#000">0</text>
<text x="307.79" y="270.1" font-size="16" font-weight="bold" fill="#000">8</text>
<text x="60.38" y="291" font-size="16" font-weight="bold" fill="#000">3</text>
<text x="61.06" y="369.6" font-size="16" font-weight="bold" fill="#000">0</text>
<text x="54.76" y="474.8" font-size="16" font-weight="bold" fill="#000">-</text>
<text x="60.09" y="474.8" font-size="16" font-weight="bold" fill="#000">4</text>
<text x="67.88" y="488" font-size="16" font-weight="bold" fill="#000">-</text>
<text x="73.2" y="488" font-size="16" font-weight="bold" fill="#000">6</text>
<text x="191.27" y="487.9" font-size="16" font-weight="bold" fill="#000">0</text>
<text x="307.91" y="487.6" font-size="16" font-weight="bold" fill="#000">6</text>
<text x="60.58" y="508.6" font-size="16" font-weight="bold" fill="#000">6</text>
<text x="60.76" y="599" font-size="16" font-weight="bold" fill="#000">0</text>
<text x="55.25" y="691.5" font-size="16" font-weight="bold" fill="#000">-</text>
<text x="60.58" y="691.5" font-size="16" font-weight="bold" fill="#000">6</text>
<text x="63.97" y="705.2" font-size="16" font-weight="bold" fill="#000">-</text>
<text x="69.3" y="705.2" font-size="16" font-weight="bold" fill="#000">6</text>
<text x="191.27" y="705.4" font-size="16" font-weight="bold" fill="#000">0</text>
<text x="307.31" y="705.2" font-size="16" font-weight="bold" fill="#000">6</text>
<text x="59.89" y="726.6" font-size="16" font-weight="bold" fill="#000">4</text>
<text x="60.76" y="807.2" font-size="16" font-weight="bold" fill="#000">0</text>
<text x="55.12" y="908.3" font-size="16" font-weight="bold" fill="#000">-</text>
<text x="60.45" y="908.3" font-size="16" font-weight="bold" fill="#000">5</text>
<text x="62.17" y="921.8" font-size="16" font-weight="bold" fill="#000">-</text>
<text x="67.5" y="921.8" font-size="16" font-weight="bold" fill="#000">6</text>
<text x="189.97" y="922.4" font-size="16" font-weight="bold" fill="#000">0</text>
<text x="306.11" y="922.4" font-size="16" font-weight="bold" fill="#000">6</text>
<text x="363.98" y="76.7" font-size="16" font-weight="bold" fill="#000">6</text>
<text x="363.86" y="168.4" font-size="16" font-weight="bold" fill="#000">0</text>
<text x="358.45" y="257.6" font-size="16" font-weight="bold" fill="#000">-</text>
<text x="363.78" y="257.6" font-size="16" font-weight="bold" fill="#000">6</text>
<text x="367.27" y="273.2" font-size="16" font-weight="bold" fill="#000">-</text>
<text x="372.6" y="273.2" font-size="16" font-weight="bold" fill="#000">8</text>
<text x="493.17" y="273.4" font-size="16" font-weight="bold" fill="#000">0</text>
<text x="610.99" y="273.1" font-size="16" font-weight="bold" fill="#000">8</text>
<text x="363.98" y="293.8" font-size="16" font-weight="bold" fill="#000">6</text>
<text x="364.16" y="353.7" font-size="16" font-weight="bold" fill="#000">0</text>
<text x="358.35" y="475" font-size="16" font-weight="bold" fill="#000">-</text>
<text x="363.68" y="475" font-size="16" font-weight="bold" fill="#000">6</text>
<text x="365.48" y="489.3" font-size="16" font-weight="bold" fill="#000">-</text>
<path d="M378.2 489.3V477.85H376.7L372.7 480.8V483L375.65 481V489.3Z" fill="#000"/>
<text x="379.7" y="489.3" font-size="16" font-weight="bold" fill="#000">0</text>
<text x="493.17" y="490.8" font-size="16" font-weight="bold" fill="#000">0</text>
<text x="609.59" y="490.2" font-size="16" font-weight="bold" fill="#000">8</text>
<path d="M371.64 511.3V499.85H370.14L366.14 502.8V505L369.09 503V511.3Z" fill="#000"/>
<text x="363.96" y="602.4" font-size="16" font-weight="bold" fill="#000">0</text>
<text x="358.91" y="694.5" font-size="16" font-weight="bold" fill="#000">-</text>
<path d="M371.64 694.5V683.05H370.14L366.14 686V688.2L369.09 686.2V694.5Z" fill="#000"/>
<text x="367.27" y="707.6" font-size="16" font-weight="bold" fill="#000">-</text>
<path d="M380 707.6V696.15H378.5L374.5 699.1V701.3L377.45 699.3V707.6Z" fill="#000"/>
<text x="494.57" y="707.9" font-size="16" font-weight="bold" fill="#000">0</text>
<path d="M617.9 707.7V696.25H616.4L612.4 699.2V701.4L615.35 699.4V707.7Z" fill="#000"/>
<path d="M371.64 728.8V717.35H370.14L366.14 720.3V722.5L369.09 720.5V728.8Z" fill="#000"/>
<text x="363.96" y="819.7" font-size="16" font-weight="bold" fill="#000">0</text>
<text x="358.91" y="911.9" font-size="16" font-weight="bold" fill="#000">-</text>
<path d="M371.64 911.9V900.45H370.14L366.14 903.4V905.6L369.09 903.6V911.9Z" fill="#000"/>
<text x="367.27" y="925.2" font-size="16" font-weight="bold" fill="#000">-</text>
<path d="M380 925.2V913.75H378.5L374.5 916.7V918.9L377.45 916.9V925.2Z" fill="#000"/>
<text x="494.57" y="925.2" font-size="16" font-weight="bold" fill="#000">0</text>
<path d="M617.9 925.2V913.75H616.4L612.4 916.7V918.9L615.35 916.9V925.2Z" fill="#000"/>
<text x="168.35" y="30.8" font-size="16.5" fill="#111111">Niching</text>
<text x="461.45" y="32.6" font-size="16.5" fill="#111111">No Niching</text>
<text x="11.07" y="162.8" font-size="16.5" fill="#111111">A1</text>
<text x="11.07" y="380.1" font-size="16.5" fill="#111111">A2</text>
<text x="11.07" y="597.5" font-size="16.5" fill="#111111">A3</text>
<text x="11.07" y="815.5" font-size="16.5" fill="#111111">A4</text>
<text x="652.95" y="163.4" font-size="16.5" fill="#111111">B1</text>
<text x="652.95" y="380.8" font-size="16.5" fill="#111111">B2</text>
<text x="652.95" y="597.6" font-size="16.5" fill="#111111">B3</text>
<text x="652.95" y="815.9" font-size="16.5" fill="#111111">B4</text>
<text x="92.07" y="214.5" font-size="16.5" fill="#2363cf">Gen.=0</text>
<text x="207.17" y="214.2" font-size="16.5" fill="#6ae256">Gen.=2000</text>
<text x="92.17" y="455.4" font-size="16.5" fill="#111111">Gen.=2000</text>
<text x="207.17" y="455.1" font-size="16.5" fill="#6ae256">Gen.=4000</text>
<text x="205.07" y="520.5" font-size="16.5" fill="#6ae256">Gen.=10000</text>
<text x="92.37" y="672.3" font-size="16.5" fill="#2363cf">Gen.=6000</text>
<text x="208.97" y="751.3" font-size="16.5" fill="#111111">Gen.=10340</text>
<text x="91.17" y="871" font-size="16.5" fill="#6ae256">Gen.=10000</text>
<text x="395.57" y="109.3" font-size="16.5" fill="#2363cf">Gen.=0</text>
<text x="473.17" y="108.9" font-size="16.5" fill="#6ae256">Gen.=2000</text>
<text x="394.37" y="434.2" font-size="16.5" fill="#6ae256">Gen.=2000</text>
<text x="509.07" y="434.7" font-size="16.5" fill="#111111">Gen.=4000</text>
<text x="395.77" y="651.7" font-size="16.5" fill="#6ae256">Gen.=4000</text>
<text x="510.77" y="652" font-size="16.5" fill="#dc2428">Gen.=4642</text>
<text x="395.77" y="869.4" font-size="16.5" fill="#6ae256">Gen.=4000</text>
<text x="510.77" y="869.7" font-size="16.5" fill="#dc2428">Gen.=4642</text>
</svg></body></html>
